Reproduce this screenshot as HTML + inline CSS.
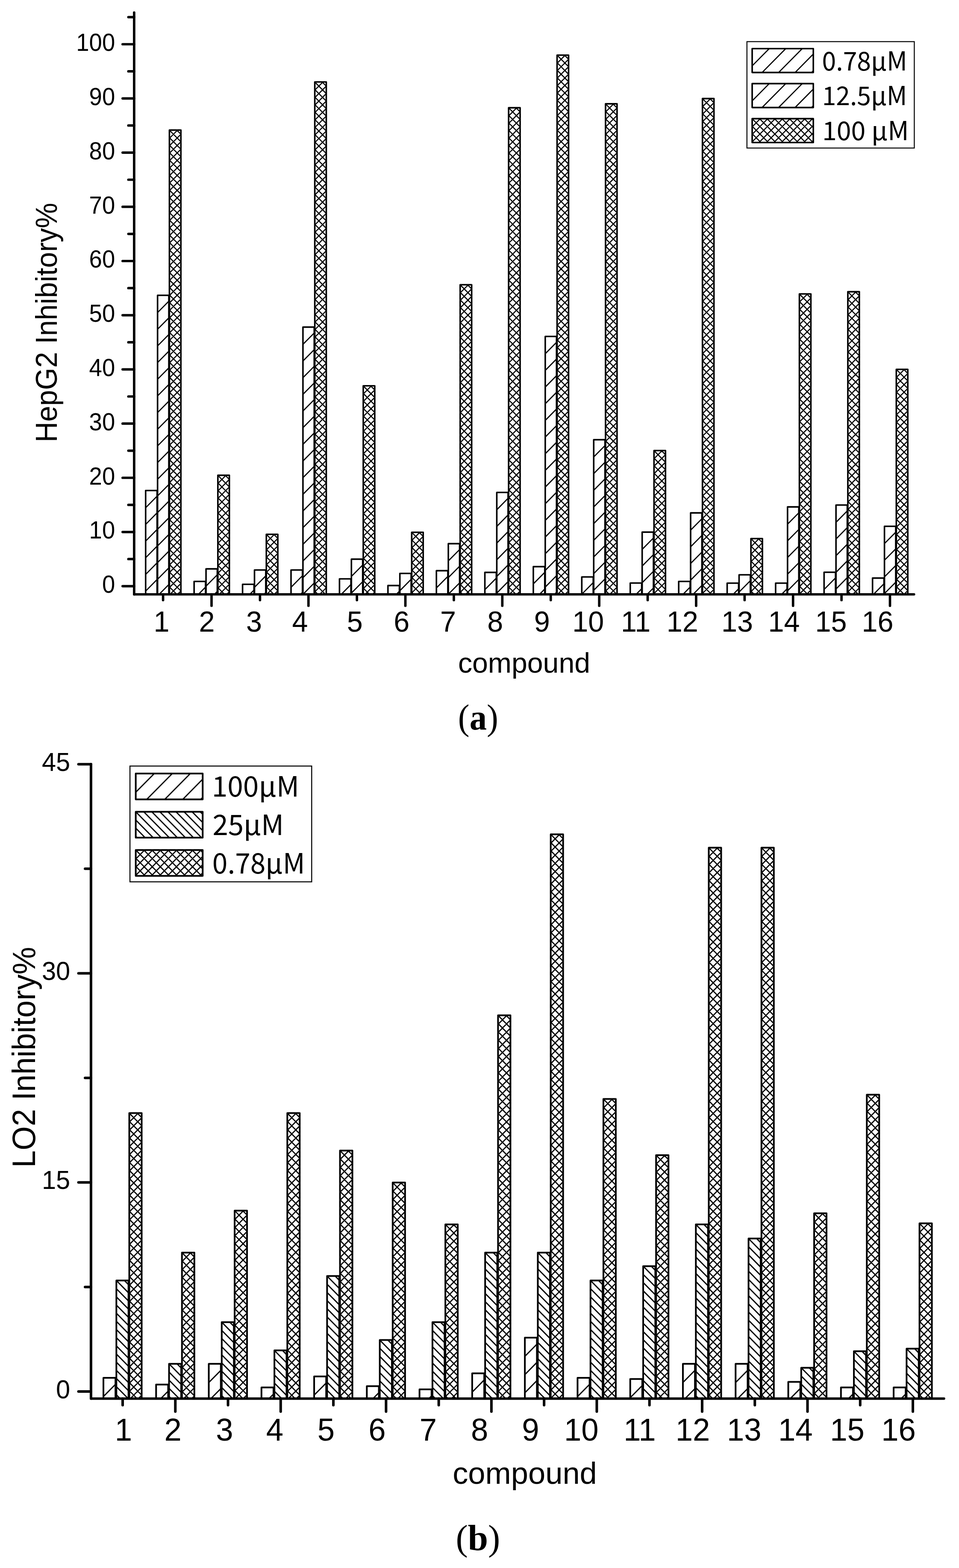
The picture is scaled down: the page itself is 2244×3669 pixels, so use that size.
<!DOCTYPE html>
<html lang="en"><head><meta charset="utf-8"><title>Inhibitory rate of compounds on HepG2 and LO2 cells</title>
<style>html,body{margin:0;padding:0;background:#fff}svg{display:block}text{font-family:"Liberation Sans",Arial,sans-serif;fill:#000}.lg{font-family:"Noto Sans CJK SC","DejaVu Sans","Liberation Sans",sans-serif}.cap{font-family:"Liberation Serif","DejaVu Serif",serif}</style></head><body>
<svg width="2244" height="3669" viewBox="0 0 2244 3669" role="img" aria-label="Bar charts of inhibitory rates">
<rect x="0" y="0" width="2244" height="3669" fill="#fff"/>
<g fill="none" stroke="#000">
<path d="M340.8 1149.1L342.19 1147.7M340.8 1188.1L367.6 1161.02M340.8 1227.1L367.6 1200.02M340.8 1266.1L367.6 1239.02M340.8 1305.1L367.6 1278.02M340.8 1344.1L367.6 1317.02M340.8 1383.1L367.6 1356.02M368.7 692.4L370.09 691M368.7 731.4L395.1 704.73M368.7 770.4L395.1 743.73M368.7 809.4L395.1 782.73M368.7 848.4L395.1 821.73M368.7 887.4L395.1 860.73M368.7 926.4L395.1 899.73M368.7 965.4L395.1 938.73M368.7 1004.4L395.1 977.73M368.7 1043.4L395.1 1016.73M368.7 1082.4L395.1 1055.73M368.7 1121.4L395.1 1094.73M368.7 1160.4L395.1 1133.73M368.7 1199.4L395.1 1172.73M368.7 1238.4L395.1 1211.73M368.7 1277.4L395.1 1250.73M368.7 1316.4L395.1 1289.73M368.7 1355.4L395.1 1328.73M372.36 1390.7L395.1 1367.73M454.19 1361.9L455.58 1360.5M464.29 1390.7L480.99 1373.82M482.09 1332.5L483.48 1331.1M482.09 1371.5L508.49 1344.83M501.69 1390.7L508.49 1383.83M567.59 1368.7L568.97 1367.3M584.41 1390.7L594.39 1380.62M595.49 1335.2L596.87 1333.8M595.49 1374.2L621.89 1347.53M617.76 1390.7L621.89 1386.53M680.98 1335.2L682.36 1333.8M680.98 1374.2L707.78 1347.12M703.25 1390.7L707.78 1386.12M708.88 766.8L710.26 765.4M708.88 805.8L735.28 779.13M708.88 844.8L735.28 818.13M708.88 883.8L735.28 857.13M708.88 922.8L735.28 896.13M708.88 961.8L735.28 935.13M708.88 1000.8L735.28 974.13M708.88 1039.8L735.28 1013.13M708.88 1078.8L735.28 1052.13M708.88 1117.8L735.28 1091.13M708.88 1156.8L735.28 1130.13M708.88 1195.8L735.28 1169.13M708.88 1234.8L735.28 1208.13M708.88 1273.8L735.28 1247.13M708.88 1312.8L735.28 1286.13M708.88 1351.8L735.28 1325.13M708.98 1390.7L735.28 1364.13M794.37 1355.9L795.76 1354.5M798.53 1390.7L821.17 1367.82M822.27 1309.8L823.66 1308.4M822.27 1348.8L848.67 1322.13M822.27 1387.8L848.67 1361.13M907.77 1371.5L909.15 1370.1M927.36 1390.7L934.57 1383.42M935.67 1343.2L937.05 1341.8M935.67 1382.2L962.07 1355.53M1021.16 1336.8L1022.54 1335.4M1021.16 1375.8L1047.96 1348.72M1045.01 1390.7L1047.96 1387.72M1049.06 1273.5L1050.44 1272.1M1049.06 1312.5L1075.46 1285.83M1049.06 1351.5L1075.46 1324.83M1049.06 1390.5L1075.46 1363.83M1134.55 1340.8L1135.94 1339.4M1134.55 1379.8L1161.35 1352.72M1162.45 1153.7L1163.84 1152.3M1162.45 1192.7L1188.85 1166.03M1162.45 1231.7L1188.85 1205.03M1162.45 1270.7L1188.85 1244.03M1162.45 1309.7L1188.85 1283.03M1162.45 1348.7L1188.85 1322.03M1162.45 1387.7L1188.85 1361.03M1247.94 1327.3L1249.33 1325.9M1247.94 1366.3L1274.74 1339.22M1262.39 1390.7L1274.74 1378.22M1275.84 788.7L1277.23 787.3M1275.84 827.7L1302.24 801.03M1275.84 866.7L1302.24 840.03M1275.84 905.7L1302.24 879.03M1275.84 944.7L1302.24 918.03M1275.84 983.7L1302.24 957.03M1275.84 1022.7L1302.24 996.03M1275.84 1061.7L1302.24 1035.03M1275.84 1100.7L1302.24 1074.03M1275.84 1139.7L1302.24 1113.03M1275.84 1178.7L1302.24 1152.03M1275.84 1217.7L1302.24 1191.03M1275.84 1256.7L1302.24 1230.03M1275.84 1295.7L1302.24 1269.03M1275.84 1334.7L1302.24 1308.03M1275.84 1373.7L1302.24 1347.03M1297.62 1390.7L1302.24 1386.03M1361.34 1351.4L1362.72 1350M1361.34 1390.4L1388.14 1363.32M1389.24 1030.3L1390.62 1028.9M1389.24 1069.3L1415.64 1042.63M1389.24 1108.3L1415.64 1081.63M1389.24 1147.3L1415.64 1120.63M1389.24 1186.3L1415.64 1159.63M1389.24 1225.3L1415.64 1198.63M1389.24 1264.3L1415.64 1237.63M1389.24 1303.3L1415.64 1276.63M1389.24 1342.3L1415.64 1315.63M1389.24 1381.3L1415.64 1354.63M1474.73 1365.6L1476.12 1364.2M1488.49 1390.7L1501.53 1377.52M1502.63 1246.5L1504.02 1245.1M1502.63 1285.5L1529.03 1258.83M1502.63 1324.5L1529.03 1297.83M1502.63 1363.5L1529.03 1336.83M1514.31 1390.7L1529.03 1375.83M1588.12 1361.9L1589.51 1360.5M1598.22 1390.7L1614.92 1373.82M1616.02 1201.5L1617.41 1200.1M1616.02 1240.5L1642.42 1213.83M1616.02 1279.5L1642.42 1252.83M1616.02 1318.5L1642.42 1291.83M1616.02 1357.5L1642.42 1330.83M1621.76 1390.7L1642.42 1369.83M1701.52 1365.9L1702.9 1364.5M1715.57 1390.7L1728.32 1377.82M1729.42 1346.4L1730.8 1345M1729.42 1385.4L1755.82 1358.73M1814.91 1365.9L1816.29 1364.5M1828.96 1390.7L1841.71 1377.82M1842.81 1187.5L1844.19 1186.1M1842.81 1226.5L1869.21 1199.83M1842.81 1265.5L1869.21 1238.83M1842.81 1304.5L1869.21 1277.83M1842.81 1343.5L1869.21 1316.83M1842.81 1382.5L1869.21 1355.83M1928.3 1340.4L1929.69 1339M1928.3 1379.4L1955.1 1352.32M1956.2 1183.2L1957.59 1181.8M1956.2 1222.2L1982.6 1195.53M1956.2 1261.2L1982.6 1234.53M1956.2 1300.2L1982.6 1273.53M1956.2 1339.2L1982.6 1312.53M1956.2 1378.2L1982.6 1351.53M1982.43 1390.7L1982.6 1390.53M2041.69 1354L2043.08 1352.6M2043.97 1390.7L2068.49 1365.92M2069.59 1232.9L2070.98 1231.5M2069.59 1271.9L2095.99 1245.23M2069.59 1310.9L2095.99 1284.23M2069.59 1349.9L2095.99 1323.23M2069.59 1388.9L2095.99 1362.23" stroke-width="2.7"/>
<path d="M396.4 306.05L398.04 304.4M396.4 323.57L415.48 304.4M396.4 341.09L423.3 314.07M396.4 358.61L423.3 331.59M396.4 376.13L423.3 349.11M396.4 393.65L423.3 366.63M396.4 411.17L423.3 384.15M396.4 428.69L423.3 401.67M396.4 446.21L423.3 419.19M396.4 463.73L423.3 436.71M396.4 481.25L423.3 454.23M396.4 498.77L423.3 471.75M396.4 516.29L423.3 489.27M396.4 533.81L423.3 506.79M396.4 551.33L423.3 524.31M396.4 568.85L423.3 541.83M396.4 586.37L423.3 559.35M396.4 603.89L423.3 576.87M396.4 621.41L423.3 594.39M396.4 638.93L423.3 611.91M396.4 656.45L423.3 629.43M396.4 673.97L423.3 646.95M396.4 691.49L423.3 664.47M396.4 709.01L423.3 681.99M396.4 726.53L423.3 699.51M396.4 744.05L423.3 717.03M396.4 761.57L423.3 734.55M396.4 779.09L423.3 752.07M396.4 796.61L423.3 769.59M396.4 814.13L423.3 787.11M396.4 831.65L423.3 804.63M396.4 849.17L423.3 822.15M396.4 866.69L423.3 839.67M396.4 884.21L423.3 857.19M396.4 901.73L423.3 874.71M396.4 919.25L423.3 892.23M396.4 936.77L423.3 909.75M396.4 954.29L423.3 927.27M396.4 971.81L423.3 944.79M396.4 989.33L423.3 962.31M396.4 1006.85L423.3 979.83M396.4 1024.37L423.3 997.35M396.4 1041.89L423.3 1014.87M396.4 1059.41L423.3 1032.39M396.4 1076.93L423.3 1049.91M396.4 1094.45L423.3 1067.43M396.4 1111.97L423.3 1084.95M396.4 1129.49L423.3 1102.47M396.4 1147.01L423.3 1119.99M396.4 1164.53L423.3 1137.51M396.4 1182.05L423.3 1155.03M396.4 1199.57L423.3 1172.55M396.4 1217.09L423.3 1190.07M396.4 1234.61L423.3 1207.59M396.4 1252.13L423.3 1225.11M396.4 1269.65L423.3 1242.63M396.4 1287.17L423.3 1260.15M396.4 1304.69L423.3 1277.67M396.4 1322.21L423.3 1295.19M396.4 1339.73L423.3 1312.71M396.4 1357.25L423.3 1330.23M396.4 1374.77L423.3 1347.75M397.98 1390.7L423.3 1365.27M415.42 1390.7L423.3 1382.79M413.64 304.4L423.3 314.1M396.4 304.6L423.3 331.62M396.4 322.12L423.3 349.14M396.4 339.64L423.3 366.66M396.4 357.16L423.3 384.18M396.4 374.68L423.3 401.7M396.4 392.2L423.3 419.22M396.4 409.72L423.3 436.74M396.4 427.24L423.3 454.26M396.4 444.76L423.3 471.78M396.4 462.28L423.3 489.3M396.4 479.8L423.3 506.82M396.4 497.32L423.3 524.34M396.4 514.84L423.3 541.86M396.4 532.36L423.3 559.38M396.4 549.88L423.3 576.9M396.4 567.4L423.3 594.42M396.4 584.92L423.3 611.94M396.4 602.44L423.3 629.46M396.4 619.96L423.3 646.98M396.4 637.48L423.3 664.5M396.4 655L423.3 682.02M396.4 672.52L423.3 699.54M396.4 690.04L423.3 717.06M396.4 707.56L423.3 734.58M396.4 725.08L423.3 752.1M396.4 742.6L423.3 769.62M396.4 760.12L423.3 787.14M396.4 777.64L423.3 804.66M396.4 795.16L423.3 822.18M396.4 812.68L423.3 839.7M396.4 830.2L423.3 857.22M396.4 847.72L423.3 874.74M396.4 865.24L423.3 892.26M396.4 882.76L423.3 909.78M396.4 900.28L423.3 927.3M396.4 917.8L423.3 944.82M396.4 935.32L423.3 962.34M396.4 952.84L423.3 979.86M396.4 970.36L423.3 997.38M396.4 987.88L423.3 1014.9M396.4 1005.4L423.3 1032.42M396.4 1022.92L423.3 1049.94M396.4 1040.44L423.3 1067.46M396.4 1057.96L423.3 1084.98M396.4 1075.48L423.3 1102.5M396.4 1093L423.3 1120.02M396.4 1110.52L423.3 1137.54M396.4 1128.04L423.3 1155.06M396.4 1145.56L423.3 1172.58M396.4 1163.08L423.3 1190.1M396.4 1180.6L423.3 1207.62M396.4 1198.12L423.3 1225.14M396.4 1215.64L423.3 1242.66M396.4 1233.16L423.3 1260.18M396.4 1250.68L423.3 1277.7M396.4 1268.2L423.3 1295.22M396.4 1285.72L423.3 1312.74M396.4 1303.24L423.3 1330.26M396.4 1320.76L423.3 1347.78M396.4 1338.28L423.3 1365.3M396.4 1355.8L423.3 1382.82M396.4 1373.32L413.7 1390.7M509.79 1113.75L511.44 1112.1M509.79 1131.27L528.88 1112.1M509.79 1148.79L536.69 1121.77M509.79 1166.31L536.69 1139.29M509.79 1183.83L536.69 1156.81M509.79 1201.35L536.69 1174.33M509.79 1218.87L536.69 1191.85M509.79 1236.39L536.69 1209.37M509.79 1253.91L536.69 1226.89M509.79 1271.43L536.69 1244.41M509.79 1288.95L536.69 1261.93M509.79 1306.47L536.69 1279.45M509.79 1323.99L536.69 1296.97M509.79 1341.51L536.69 1314.49M509.79 1359.03L536.69 1332.01M509.79 1376.55L536.69 1349.53M513.15 1390.7L536.69 1367.05M530.59 1390.7L536.69 1384.57M527.03 1112.1L536.69 1121.8M509.79 1112.3L536.69 1139.32M509.79 1129.82L536.69 1156.84M509.79 1147.34L536.69 1174.36M509.79 1164.86L536.69 1191.88M509.79 1182.38L536.69 1209.4M509.79 1199.9L536.69 1226.92M509.79 1217.42L536.69 1244.44M509.79 1234.94L536.69 1261.96M509.79 1252.46L536.69 1279.48M509.79 1269.98L536.69 1297M509.79 1287.5L536.69 1314.52M509.79 1305.02L536.69 1332.04M509.79 1322.54L536.69 1349.56M509.79 1340.06L536.69 1367.08M509.79 1357.58L536.69 1384.6M509.79 1375.1L525.32 1390.7M623.19 1251.85L624.83 1250.2M623.19 1269.37L642.27 1250.2M623.19 1286.89L650.09 1259.87M623.19 1304.41L650.09 1277.39M623.19 1321.93L650.09 1294.91M623.19 1339.45L650.09 1312.43M623.19 1356.97L650.09 1329.95M623.19 1374.49L650.09 1347.47M624.49 1390.7L650.09 1364.99M641.93 1390.7L650.09 1382.51M640.43 1250.2L650.09 1259.9M623.19 1250.4L650.09 1277.42M623.19 1267.92L650.09 1294.94M623.19 1285.44L650.09 1312.46M623.19 1302.96L650.09 1329.98M623.19 1320.48L650.09 1347.5M623.19 1338L650.09 1365.02M623.19 1355.52L650.09 1382.54M623.19 1373.04L640.77 1390.7M736.58 193.45L738.22 191.8M736.58 210.97L755.66 191.8M736.58 228.49L763.48 201.47M736.58 246.01L763.48 218.99M736.58 263.53L763.48 236.51M736.58 281.05L763.48 254.03M736.58 298.57L763.48 271.55M736.58 316.09L763.48 289.07M736.58 333.61L763.48 306.59M736.58 351.13L763.48 324.11M736.58 368.65L763.48 341.63M736.58 386.17L763.48 359.15M736.58 403.69L763.48 376.67M736.58 421.21L763.48 394.19M736.58 438.73L763.48 411.71M736.58 456.25L763.48 429.23M736.58 473.77L763.48 446.75M736.58 491.29L763.48 464.27M736.58 508.81L763.48 481.79M736.58 526.33L763.48 499.31M736.58 543.85L763.48 516.83M736.58 561.37L763.48 534.35M736.58 578.89L763.48 551.87M736.58 596.41L763.48 569.39M736.58 613.93L763.48 586.91M736.58 631.45L763.48 604.43M736.58 648.97L763.48 621.95M736.58 666.49L763.48 639.47M736.58 684.01L763.48 656.99M736.58 701.53L763.48 674.51M736.58 719.05L763.48 692.03M736.58 736.57L763.48 709.55M736.58 754.09L763.48 727.07M736.58 771.61L763.48 744.59M736.58 789.13L763.48 762.11M736.58 806.65L763.48 779.63M736.58 824.17L763.48 797.15M736.58 841.69L763.48 814.67M736.58 859.21L763.48 832.19M736.58 876.73L763.48 849.71M736.58 894.25L763.48 867.23M736.58 911.77L763.48 884.75M736.58 929.29L763.48 902.27M736.58 946.81L763.48 919.79M736.58 964.33L763.48 937.31M736.58 981.85L763.48 954.83M736.58 999.37L763.48 972.35M736.58 1016.89L763.48 989.87M736.58 1034.41L763.48 1007.39M736.58 1051.93L763.48 1024.91M736.58 1069.45L763.48 1042.43M736.58 1086.97L763.48 1059.95M736.58 1104.49L763.48 1077.47M736.58 1122.01L763.48 1094.99M736.58 1139.53L763.48 1112.51M736.58 1157.05L763.48 1130.03M736.58 1174.57L763.48 1147.55M736.58 1192.09L763.48 1165.07M736.58 1209.61L763.48 1182.59M736.58 1227.13L763.48 1200.11M736.58 1244.65L763.48 1217.63M736.58 1262.17L763.48 1235.15M736.58 1279.69L763.48 1252.67M736.58 1297.21L763.48 1270.19M736.58 1314.73L763.48 1287.71M736.58 1332.25L763.48 1305.23M736.58 1349.77L763.48 1322.75M736.58 1367.29L763.48 1340.27M736.58 1384.81L763.48 1357.79M748.16 1390.7L763.48 1375.31M753.82 191.8L763.48 201.5M736.58 192L763.48 219.02M736.58 209.52L763.48 236.54M736.58 227.04L763.48 254.06M736.58 244.56L763.48 271.58M736.58 262.08L763.48 289.1M736.58 279.6L763.48 306.62M736.58 297.12L763.48 324.14M736.58 314.64L763.48 341.66M736.58 332.16L763.48 359.18M736.58 349.68L763.48 376.7M736.58 367.2L763.48 394.22M736.58 384.72L763.48 411.74M736.58 402.24L763.48 429.26M736.58 419.76L763.48 446.78M736.58 437.28L763.48 464.3M736.58 454.8L763.48 481.82M736.58 472.32L763.48 499.34M736.58 489.84L763.48 516.86M736.58 507.36L763.48 534.38M736.58 524.88L763.48 551.9M736.58 542.4L763.48 569.42M736.58 559.92L763.48 586.94M736.58 577.44L763.48 604.46M736.58 594.96L763.48 621.98M736.58 612.48L763.48 639.5M736.58 630L763.48 657.02M736.58 647.52L763.48 674.54M736.58 665.04L763.48 692.06M736.58 682.56L763.48 709.58M736.58 700.08L763.48 727.1M736.58 717.6L763.48 744.62M736.58 735.12L763.48 762.14M736.58 752.64L763.48 779.66M736.58 770.16L763.48 797.18M736.58 787.68L763.48 814.7M736.58 805.2L763.48 832.22M736.58 822.72L763.48 849.74M736.58 840.24L763.48 867.26M736.58 857.76L763.48 884.78M736.58 875.28L763.48 902.3M736.58 892.8L763.48 919.82M736.58 910.32L763.48 937.34M736.58 927.84L763.48 954.86M736.58 945.36L763.48 972.38M736.58 962.88L763.48 989.9M736.58 980.4L763.48 1007.42M736.58 997.92L763.48 1024.94M736.58 1015.44L763.48 1042.46M736.58 1032.96L763.48 1059.98M736.58 1050.48L763.48 1077.5M736.58 1068L763.48 1095.02M736.58 1085.52L763.48 1112.54M736.58 1103.04L763.48 1130.06M736.58 1120.56L763.48 1147.58M736.58 1138.08L763.48 1165.1M736.58 1155.6L763.48 1182.62M736.58 1173.12L763.48 1200.14M736.58 1190.64L763.48 1217.66M736.58 1208.16L763.48 1235.18M736.58 1225.68L763.48 1252.7M736.58 1243.2L763.48 1270.22M736.58 1260.72L763.48 1287.74M736.58 1278.24L763.48 1305.26M736.58 1295.76L763.48 1322.78M736.58 1313.28L763.48 1340.3M736.58 1330.8L763.48 1357.82M736.58 1348.32L763.48 1375.34M736.58 1365.84L761.33 1390.7M736.58 1383.36L743.89 1390.7M849.97 904.45L851.61 902.8M849.97 921.97L869.05 902.8M849.97 939.49L876.87 912.47M849.97 957.01L876.87 929.99M849.97 974.53L876.87 947.51M849.97 992.05L876.87 965.03M849.97 1009.57L876.87 982.55M849.97 1027.09L876.87 1000.07M849.97 1044.61L876.87 1017.59M849.97 1062.13L876.87 1035.11M849.97 1079.65L876.87 1052.63M849.97 1097.17L876.87 1070.15M849.97 1114.69L876.87 1087.67M849.97 1132.21L876.87 1105.19M849.97 1149.73L876.87 1122.71M849.97 1167.25L876.87 1140.23M849.97 1184.77L876.87 1157.75M849.97 1202.29L876.87 1175.27M849.97 1219.81L876.87 1192.79M849.97 1237.33L876.87 1210.31M849.97 1254.85L876.87 1227.83M849.97 1272.37L876.87 1245.35M849.97 1289.89L876.87 1262.87M849.97 1307.41L876.87 1280.39M849.97 1324.93L876.87 1297.91M849.97 1342.45L876.87 1315.43M849.97 1359.97L876.87 1332.95M849.97 1377.49L876.87 1350.47M854.26 1390.7L876.87 1367.99M871.7 1390.7L876.87 1385.51M867.21 902.8L876.87 912.5M849.97 903L876.87 930.02M849.97 920.52L876.87 947.54M849.97 938.04L876.87 965.06M849.97 955.56L876.87 982.58M849.97 973.08L876.87 1000.1M849.97 990.6L876.87 1017.62M849.97 1008.12L876.87 1035.14M849.97 1025.64L876.87 1052.66M849.97 1043.16L876.87 1070.18M849.97 1060.68L876.87 1087.7M849.97 1078.2L876.87 1105.22M849.97 1095.72L876.87 1122.74M849.97 1113.24L876.87 1140.26M849.97 1130.76L876.87 1157.78M849.97 1148.28L876.87 1175.3M849.97 1165.8L876.87 1192.82M849.97 1183.32L876.87 1210.34M849.97 1200.84L876.87 1227.86M849.97 1218.36L876.87 1245.38M849.97 1235.88L876.87 1262.9M849.97 1253.4L876.87 1280.42M849.97 1270.92L876.87 1297.94M849.97 1288.44L876.87 1315.46M849.97 1305.96L876.87 1332.98M849.97 1323.48L876.87 1350.5M849.97 1341L876.87 1368.02M849.97 1358.52L876.87 1385.54M849.97 1376.04L864.57 1390.7M963.37 1247.15L965.01 1245.5M963.37 1264.67L982.45 1245.5M963.37 1282.19L990.27 1255.17M963.37 1299.71L990.27 1272.69M963.37 1317.23L990.27 1290.21M963.37 1334.75L990.27 1307.73M963.37 1352.27L990.27 1325.25M963.37 1369.79L990.27 1342.77M963.37 1387.31L990.27 1360.29M977.43 1390.7L990.27 1377.81M980.61 1245.5L990.27 1255.2M963.37 1245.7L990.27 1272.72M963.37 1263.22L990.27 1290.24M963.37 1280.74L990.27 1307.76M963.37 1298.26L990.27 1325.28M963.37 1315.78L990.27 1342.8M963.37 1333.3L990.27 1360.32M963.37 1350.82L990.27 1377.84M963.37 1368.34L985.62 1390.7M963.37 1385.86L968.18 1390.7M1076.76 667.95L1078.4 666.3M1076.76 685.47L1095.84 666.3M1076.76 702.99L1103.66 675.97M1076.76 720.51L1103.66 693.49M1076.76 738.03L1103.66 711.01M1076.76 755.55L1103.66 728.53M1076.76 773.07L1103.66 746.05M1076.76 790.59L1103.66 763.57M1076.76 808.11L1103.66 781.09M1076.76 825.63L1103.66 798.61M1076.76 843.15L1103.66 816.13M1076.76 860.67L1103.66 833.65M1076.76 878.19L1103.66 851.17M1076.76 895.71L1103.66 868.69M1076.76 913.23L1103.66 886.21M1076.76 930.75L1103.66 903.73M1076.76 948.27L1103.66 921.25M1076.76 965.79L1103.66 938.77M1076.76 983.31L1103.66 956.29M1076.76 1000.83L1103.66 973.81M1076.76 1018.35L1103.66 991.33M1076.76 1035.87L1103.66 1008.85M1076.76 1053.39L1103.66 1026.37M1076.76 1070.91L1103.66 1043.89M1076.76 1088.43L1103.66 1061.41M1076.76 1105.95L1103.66 1078.93M1076.76 1123.47L1103.66 1096.45M1076.76 1140.99L1103.66 1113.97M1076.76 1158.51L1103.66 1131.49M1076.76 1176.03L1103.66 1149.01M1076.76 1193.55L1103.66 1166.53M1076.76 1211.07L1103.66 1184.05M1076.76 1228.59L1103.66 1201.57M1076.76 1246.11L1103.66 1219.09M1076.76 1263.63L1103.66 1236.61M1076.76 1281.15L1103.66 1254.13M1076.76 1298.67L1103.66 1271.65M1076.76 1316.19L1103.66 1289.17M1076.76 1333.71L1103.66 1306.69M1076.76 1351.23L1103.66 1324.21M1076.76 1368.75L1103.66 1341.73M1076.76 1386.27L1103.66 1359.25M1089.79 1390.7L1103.66 1376.77M1094 666.3L1103.66 676M1076.76 666.5L1103.66 693.52M1076.76 684.02L1103.66 711.04M1076.76 701.54L1103.66 728.56M1076.76 719.06L1103.66 746.08M1076.76 736.58L1103.66 763.6M1076.76 754.1L1103.66 781.12M1076.76 771.62L1103.66 798.64M1076.76 789.14L1103.66 816.16M1076.76 806.66L1103.66 833.68M1076.76 824.18L1103.66 851.2M1076.76 841.7L1103.66 868.72M1076.76 859.22L1103.66 886.24M1076.76 876.74L1103.66 903.76M1076.76 894.26L1103.66 921.28M1076.76 911.78L1103.66 938.8M1076.76 929.3L1103.66 956.32M1076.76 946.82L1103.66 973.84M1076.76 964.34L1103.66 991.36M1076.76 981.86L1103.66 1008.88M1076.76 999.38L1103.66 1026.4M1076.76 1016.9L1103.66 1043.92M1076.76 1034.42L1103.66 1061.44M1076.76 1051.94L1103.66 1078.96M1076.76 1069.46L1103.66 1096.48M1076.76 1086.98L1103.66 1114M1076.76 1104.5L1103.66 1131.52M1076.76 1122.02L1103.66 1149.04M1076.76 1139.54L1103.66 1166.56M1076.76 1157.06L1103.66 1184.08M1076.76 1174.58L1103.66 1201.6M1076.76 1192.1L1103.66 1219.12M1076.76 1209.62L1103.66 1236.64M1076.76 1227.14L1103.66 1254.16M1076.76 1244.66L1103.66 1271.68M1076.76 1262.18L1103.66 1289.2M1076.76 1279.7L1103.66 1306.72M1076.76 1297.22L1103.66 1324.24M1076.76 1314.74L1103.66 1341.76M1076.76 1332.26L1103.66 1359.28M1076.76 1349.78L1103.66 1376.8M1076.76 1367.3L1100.05 1390.7M1076.76 1384.82L1082.61 1390.7M1190.15 253.75L1191.79 252.1M1190.15 271.27L1209.23 252.1M1190.15 288.79L1217.05 261.77M1190.15 306.31L1217.05 279.29M1190.15 323.83L1217.05 296.81M1190.15 341.35L1217.05 314.33M1190.15 358.87L1217.05 331.85M1190.15 376.39L1217.05 349.37M1190.15 393.91L1217.05 366.89M1190.15 411.43L1217.05 384.41M1190.15 428.95L1217.05 401.93M1190.15 446.47L1217.05 419.45M1190.15 463.99L1217.05 436.97M1190.15 481.51L1217.05 454.49M1190.15 499.03L1217.05 472.01M1190.15 516.55L1217.05 489.53M1190.15 534.07L1217.05 507.05M1190.15 551.59L1217.05 524.57M1190.15 569.11L1217.05 542.09M1190.15 586.63L1217.05 559.61M1190.15 604.15L1217.05 577.13M1190.15 621.67L1217.05 594.65M1190.15 639.19L1217.05 612.17M1190.15 656.71L1217.05 629.69M1190.15 674.23L1217.05 647.21M1190.15 691.75L1217.05 664.73M1190.15 709.27L1217.05 682.25M1190.15 726.79L1217.05 699.77M1190.15 744.31L1217.05 717.29M1190.15 761.83L1217.05 734.81M1190.15 779.35L1217.05 752.33M1190.15 796.87L1217.05 769.85M1190.15 814.39L1217.05 787.37M1190.15 831.91L1217.05 804.89M1190.15 849.43L1217.05 822.41M1190.15 866.95L1217.05 839.93M1190.15 884.47L1217.05 857.45M1190.15 901.99L1217.05 874.97M1190.15 919.51L1217.05 892.49M1190.15 937.03L1217.05 910.01M1190.15 954.55L1217.05 927.53M1190.15 972.07L1217.05 945.05M1190.15 989.59L1217.05 962.57M1190.15 1007.11L1217.05 980.09M1190.15 1024.63L1217.05 997.61M1190.15 1042.15L1217.05 1015.13M1190.15 1059.67L1217.05 1032.65M1190.15 1077.19L1217.05 1050.17M1190.15 1094.71L1217.05 1067.69M1190.15 1112.23L1217.05 1085.21M1190.15 1129.75L1217.05 1102.73M1190.15 1147.27L1217.05 1120.25M1190.15 1164.79L1217.05 1137.77M1190.15 1182.31L1217.05 1155.29M1190.15 1199.83L1217.05 1172.81M1190.15 1217.35L1217.05 1190.33M1190.15 1234.87L1217.05 1207.85M1190.15 1252.39L1217.05 1225.37M1190.15 1269.91L1217.05 1242.89M1190.15 1287.43L1217.05 1260.41M1190.15 1304.95L1217.05 1277.93M1190.15 1322.47L1217.05 1295.45M1190.15 1339.99L1217.05 1312.97M1190.15 1357.51L1217.05 1330.49M1190.15 1375.03L1217.05 1348.01M1191.99 1390.7L1217.05 1365.53M1209.43 1390.7L1217.05 1383.05M1207.39 252.1L1217.05 261.8M1190.15 252.3L1217.05 279.32M1190.15 269.82L1217.05 296.84M1190.15 287.34L1217.05 314.36M1190.15 304.86L1217.05 331.88M1190.15 322.38L1217.05 349.4M1190.15 339.9L1217.05 366.92M1190.15 357.42L1217.05 384.44M1190.15 374.94L1217.05 401.96M1190.15 392.46L1217.05 419.48M1190.15 409.98L1217.05 437M1190.15 427.5L1217.05 454.52M1190.15 445.02L1217.05 472.04M1190.15 462.54L1217.05 489.56M1190.15 480.06L1217.05 507.08M1190.15 497.58L1217.05 524.6M1190.15 515.1L1217.05 542.12M1190.15 532.62L1217.05 559.64M1190.15 550.14L1217.05 577.16M1190.15 567.66L1217.05 594.68M1190.15 585.18L1217.05 612.2M1190.15 602.7L1217.05 629.72M1190.15 620.22L1217.05 647.24M1190.15 637.74L1217.05 664.76M1190.15 655.26L1217.05 682.28M1190.15 672.78L1217.05 699.8M1190.15 690.3L1217.05 717.32M1190.15 707.82L1217.05 734.84M1190.15 725.34L1217.05 752.36M1190.15 742.86L1217.05 769.88M1190.15 760.38L1217.05 787.4M1190.15 777.9L1217.05 804.92M1190.15 795.42L1217.05 822.44M1190.15 812.94L1217.05 839.96M1190.15 830.46L1217.05 857.48M1190.15 847.98L1217.05 875M1190.15 865.5L1217.05 892.52M1190.15 883.02L1217.05 910.04M1190.15 900.54L1217.05 927.56M1190.15 918.06L1217.05 945.08M1190.15 935.58L1217.05 962.6M1190.15 953.1L1217.05 980.12M1190.15 970.62L1217.05 997.64M1190.15 988.14L1217.05 1015.16M1190.15 1005.66L1217.05 1032.68M1190.15 1023.18L1217.05 1050.2M1190.15 1040.7L1217.05 1067.72M1190.15 1058.22L1217.05 1085.24M1190.15 1075.74L1217.05 1102.76M1190.15 1093.26L1217.05 1120.28M1190.15 1110.78L1217.05 1137.8M1190.15 1128.3L1217.05 1155.32M1190.15 1145.82L1217.05 1172.84M1190.15 1163.34L1217.05 1190.36M1190.15 1180.86L1217.05 1207.88M1190.15 1198.38L1217.05 1225.4M1190.15 1215.9L1217.05 1242.92M1190.15 1233.42L1217.05 1260.44M1190.15 1250.94L1217.05 1277.96M1190.15 1268.46L1217.05 1295.48M1190.15 1285.98L1217.05 1313M1190.15 1303.5L1217.05 1330.52M1190.15 1321.02L1217.05 1348.04M1190.15 1338.54L1217.05 1365.56M1190.15 1356.06L1217.05 1383.08M1190.15 1373.58L1207.19 1390.7M1303.54 130.65L1305.19 129M1303.54 148.17L1322.63 129M1303.54 165.69L1330.44 138.67M1303.54 183.21L1330.44 156.19M1303.54 200.73L1330.44 173.71M1303.54 218.25L1330.44 191.23M1303.54 235.77L1330.44 208.75M1303.54 253.29L1330.44 226.27M1303.54 270.81L1330.44 243.79M1303.54 288.33L1330.44 261.31M1303.54 305.85L1330.44 278.83M1303.54 323.37L1330.44 296.35M1303.54 340.89L1330.44 313.87M1303.54 358.41L1330.44 331.39M1303.54 375.93L1330.44 348.91M1303.54 393.45L1330.44 366.43M1303.54 410.97L1330.44 383.95M1303.54 428.49L1330.44 401.47M1303.54 446.01L1330.44 418.99M1303.54 463.53L1330.44 436.51M1303.54 481.05L1330.44 454.03M1303.54 498.57L1330.44 471.55M1303.54 516.09L1330.44 489.07M1303.54 533.61L1330.44 506.59M1303.54 551.13L1330.44 524.11M1303.54 568.65L1330.44 541.63M1303.54 586.17L1330.44 559.15M1303.54 603.69L1330.44 576.67M1303.54 621.21L1330.44 594.19M1303.54 638.73L1330.44 611.71M1303.54 656.25L1330.44 629.23M1303.54 673.77L1330.44 646.75M1303.54 691.29L1330.44 664.27M1303.54 708.81L1330.44 681.79M1303.54 726.33L1330.44 699.31M1303.54 743.85L1330.44 716.83M1303.54 761.37L1330.44 734.35M1303.54 778.89L1330.44 751.87M1303.54 796.41L1330.44 769.39M1303.54 813.93L1330.44 786.91M1303.54 831.45L1330.44 804.43M1303.54 848.97L1330.44 821.95M1303.54 866.49L1330.44 839.47M1303.54 884.01L1330.44 856.99M1303.54 901.53L1330.44 874.51M1303.54 919.05L1330.44 892.03M1303.54 936.57L1330.44 909.55M1303.54 954.09L1330.44 927.07M1303.54 971.61L1330.44 944.59M1303.54 989.13L1330.44 962.11M1303.54 1006.65L1330.44 979.63M1303.54 1024.17L1330.44 997.15M1303.54 1041.69L1330.44 1014.67M1303.54 1059.21L1330.44 1032.19M1303.54 1076.73L1330.44 1049.71M1303.54 1094.25L1330.44 1067.23M1303.54 1111.77L1330.44 1084.75M1303.54 1129.29L1330.44 1102.27M1303.54 1146.81L1330.44 1119.79M1303.54 1164.33L1330.44 1137.31M1303.54 1181.85L1330.44 1154.83M1303.54 1199.37L1330.44 1172.35M1303.54 1216.89L1330.44 1189.87M1303.54 1234.41L1330.44 1207.39M1303.54 1251.93L1330.44 1224.91M1303.54 1269.45L1330.44 1242.43M1303.54 1286.97L1330.44 1259.95M1303.54 1304.49L1330.44 1277.47M1303.54 1322.01L1330.44 1294.99M1303.54 1339.53L1330.44 1312.51M1303.54 1357.05L1330.44 1330.03M1303.54 1374.57L1330.44 1347.55M1304.93 1390.7L1330.44 1365.07M1322.37 1390.7L1330.44 1382.59M1320.78 129L1330.44 138.7M1303.54 129.2L1330.44 156.22M1303.54 146.72L1330.44 173.74M1303.54 164.24L1330.44 191.26M1303.54 181.76L1330.44 208.78M1303.54 199.28L1330.44 226.3M1303.54 216.8L1330.44 243.82M1303.54 234.32L1330.44 261.34M1303.54 251.84L1330.44 278.86M1303.54 269.36L1330.44 296.38M1303.54 286.88L1330.44 313.9M1303.54 304.4L1330.44 331.42M1303.54 321.92L1330.44 348.94M1303.54 339.44L1330.44 366.46M1303.54 356.96L1330.44 383.98M1303.54 374.48L1330.44 401.5M1303.54 392L1330.44 419.02M1303.54 409.52L1330.44 436.54M1303.54 427.04L1330.44 454.06M1303.54 444.56L1330.44 471.58M1303.54 462.08L1330.44 489.1M1303.54 479.6L1330.44 506.62M1303.54 497.12L1330.44 524.14M1303.54 514.64L1330.44 541.66M1303.54 532.16L1330.44 559.18M1303.54 549.68L1330.44 576.7M1303.54 567.2L1330.44 594.22M1303.54 584.72L1330.44 611.74M1303.54 602.24L1330.44 629.26M1303.54 619.76L1330.44 646.78M1303.54 637.28L1330.44 664.3M1303.54 654.8L1330.44 681.82M1303.54 672.32L1330.44 699.34M1303.54 689.84L1330.44 716.86M1303.54 707.36L1330.44 734.38M1303.54 724.88L1330.44 751.9M1303.54 742.4L1330.44 769.42M1303.54 759.92L1330.44 786.94M1303.54 777.44L1330.44 804.46M1303.54 794.96L1330.44 821.98M1303.54 812.48L1330.44 839.5M1303.54 830L1330.44 857.02M1303.54 847.52L1330.44 874.54M1303.54 865.04L1330.44 892.06M1303.54 882.56L1330.44 909.58M1303.54 900.08L1330.44 927.1M1303.54 917.6L1330.44 944.62M1303.54 935.12L1330.44 962.14M1303.54 952.64L1330.44 979.66M1303.54 970.16L1330.44 997.18M1303.54 987.68L1330.44 1014.7M1303.54 1005.2L1330.44 1032.22M1303.54 1022.72L1330.44 1049.74M1303.54 1040.24L1330.44 1067.26M1303.54 1057.76L1330.44 1084.78M1303.54 1075.28L1330.44 1102.3M1303.54 1092.8L1330.44 1119.82M1303.54 1110.32L1330.44 1137.34M1303.54 1127.84L1330.44 1154.86M1303.54 1145.36L1330.44 1172.38M1303.54 1162.88L1330.44 1189.9M1303.54 1180.4L1330.44 1207.42M1303.54 1197.92L1330.44 1224.94M1303.54 1215.44L1330.44 1242.46M1303.54 1232.96L1330.44 1259.98M1303.54 1250.48L1330.44 1277.5M1303.54 1268L1330.44 1295.02M1303.54 1285.52L1330.44 1312.54M1303.54 1303.04L1330.44 1330.06M1303.54 1320.56L1330.44 1347.58M1303.54 1338.08L1330.44 1365.1M1303.54 1355.6L1330.44 1382.62M1303.54 1373.12L1321.04 1390.7M1416.94 244.55L1418.58 242.9M1416.94 262.07L1436.02 242.9M1416.94 279.59L1443.84 252.57M1416.94 297.11L1443.84 270.09M1416.94 314.63L1443.84 287.61M1416.94 332.15L1443.84 305.13M1416.94 349.67L1443.84 322.65M1416.94 367.19L1443.84 340.17M1416.94 384.71L1443.84 357.69M1416.94 402.23L1443.84 375.21M1416.94 419.75L1443.84 392.73M1416.94 437.27L1443.84 410.25M1416.94 454.79L1443.84 427.77M1416.94 472.31L1443.84 445.29M1416.94 489.83L1443.84 462.81M1416.94 507.35L1443.84 480.33M1416.94 524.87L1443.84 497.85M1416.94 542.39L1443.84 515.37M1416.94 559.91L1443.84 532.89M1416.94 577.43L1443.84 550.41M1416.94 594.95L1443.84 567.93M1416.94 612.47L1443.84 585.45M1416.94 629.99L1443.84 602.97M1416.94 647.51L1443.84 620.49M1416.94 665.03L1443.84 638.01M1416.94 682.55L1443.84 655.53M1416.94 700.07L1443.84 673.05M1416.94 717.59L1443.84 690.57M1416.94 735.11L1443.84 708.09M1416.94 752.63L1443.84 725.61M1416.94 770.15L1443.84 743.13M1416.94 787.67L1443.84 760.65M1416.94 805.19L1443.84 778.17M1416.94 822.71L1443.84 795.69M1416.94 840.23L1443.84 813.21M1416.94 857.75L1443.84 830.73M1416.94 875.27L1443.84 848.25M1416.94 892.79L1443.84 865.77M1416.94 910.31L1443.84 883.29M1416.94 927.83L1443.84 900.81M1416.94 945.35L1443.84 918.33M1416.94 962.87L1443.84 935.85M1416.94 980.39L1443.84 953.37M1416.94 997.91L1443.84 970.89M1416.94 1015.43L1443.84 988.41M1416.94 1032.95L1443.84 1005.93M1416.94 1050.47L1443.84 1023.45M1416.94 1067.99L1443.84 1040.97M1416.94 1085.51L1443.84 1058.49M1416.94 1103.03L1443.84 1076.01M1416.94 1120.55L1443.84 1093.53M1416.94 1138.07L1443.84 1111.05M1416.94 1155.59L1443.84 1128.57M1416.94 1173.11L1443.84 1146.09M1416.94 1190.63L1443.84 1163.61M1416.94 1208.15L1443.84 1181.13M1416.94 1225.67L1443.84 1198.65M1416.94 1243.19L1443.84 1216.17M1416.94 1260.71L1443.84 1233.69M1416.94 1278.23L1443.84 1251.21M1416.94 1295.75L1443.84 1268.73M1416.94 1313.27L1443.84 1286.25M1416.94 1330.79L1443.84 1303.77M1416.94 1348.31L1443.84 1321.29M1416.94 1365.83L1443.84 1338.81M1416.94 1383.35L1443.84 1356.33M1427.06 1390.7L1443.84 1373.85M1434.18 242.9L1443.84 252.6M1416.94 243.1L1443.84 270.12M1416.94 260.62L1443.84 287.64M1416.94 278.14L1443.84 305.16M1416.94 295.66L1443.84 322.68M1416.94 313.18L1443.84 340.2M1416.94 330.7L1443.84 357.72M1416.94 348.22L1443.84 375.24M1416.94 365.74L1443.84 392.76M1416.94 383.26L1443.84 410.28M1416.94 400.78L1443.84 427.8M1416.94 418.3L1443.84 445.32M1416.94 435.82L1443.84 462.84M1416.94 453.34L1443.84 480.36M1416.94 470.86L1443.84 497.88M1416.94 488.38L1443.84 515.4M1416.94 505.9L1443.84 532.92M1416.94 523.42L1443.84 550.44M1416.94 540.94L1443.84 567.96M1416.94 558.46L1443.84 585.48M1416.94 575.98L1443.84 603M1416.94 593.5L1443.84 620.52M1416.94 611.02L1443.84 638.04M1416.94 628.54L1443.84 655.56M1416.94 646.06L1443.84 673.08M1416.94 663.58L1443.84 690.6M1416.94 681.1L1443.84 708.12M1416.94 698.62L1443.84 725.64M1416.94 716.14L1443.84 743.16M1416.94 733.66L1443.84 760.68M1416.94 751.18L1443.84 778.2M1416.94 768.7L1443.84 795.72M1416.94 786.22L1443.84 813.24M1416.94 803.74L1443.84 830.76M1416.94 821.26L1443.84 848.28M1416.94 838.78L1443.84 865.8M1416.94 856.3L1443.84 883.32M1416.94 873.82L1443.84 900.84M1416.94 891.34L1443.84 918.36M1416.94 908.86L1443.84 935.88M1416.94 926.38L1443.84 953.4M1416.94 943.9L1443.84 970.92M1416.94 961.42L1443.84 988.44M1416.94 978.94L1443.84 1005.96M1416.94 996.46L1443.84 1023.48M1416.94 1013.98L1443.84 1041M1416.94 1031.5L1443.84 1058.52M1416.94 1049.02L1443.84 1076.04M1416.94 1066.54L1443.84 1093.56M1416.94 1084.06L1443.84 1111.08M1416.94 1101.58L1443.84 1128.6M1416.94 1119.1L1443.84 1146.12M1416.94 1136.62L1443.84 1163.64M1416.94 1154.14L1443.84 1181.16M1416.94 1171.66L1443.84 1198.68M1416.94 1189.18L1443.84 1216.2M1416.94 1206.7L1443.84 1233.72M1416.94 1224.22L1443.84 1251.24M1416.94 1241.74L1443.84 1268.76M1416.94 1259.26L1443.84 1286.28M1416.94 1276.78L1443.84 1303.8M1416.94 1294.3L1443.84 1321.32M1416.94 1311.82L1443.84 1338.84M1416.94 1329.34L1443.84 1356.36M1416.94 1346.86L1443.84 1373.88M1416.94 1364.38L1443.14 1390.7M1416.94 1381.9L1425.7 1390.7M1530.33 1055.95L1531.97 1054.3M1530.33 1073.47L1549.41 1054.3M1530.33 1090.99L1557.23 1063.97M1530.33 1108.51L1557.23 1081.49M1530.33 1126.03L1557.23 1099.01M1530.33 1143.55L1557.23 1116.53M1530.33 1161.07L1557.23 1134.05M1530.33 1178.59L1557.23 1151.57M1530.33 1196.11L1557.23 1169.09M1530.33 1213.63L1557.23 1186.61M1530.33 1231.15L1557.23 1204.13M1530.33 1248.67L1557.23 1221.65M1530.33 1266.19L1557.23 1239.17M1530.33 1283.71L1557.23 1256.69M1530.33 1301.23L1557.23 1274.21M1530.33 1318.75L1557.23 1291.73M1530.33 1336.27L1557.23 1309.25M1530.33 1353.79L1557.23 1326.77M1530.33 1371.31L1557.23 1344.29M1530.33 1388.83L1557.23 1361.81M1545.91 1390.7L1557.23 1379.33M1547.57 1054.3L1557.23 1064M1530.33 1054.5L1557.23 1081.52M1530.33 1072.02L1557.23 1099.04M1530.33 1089.54L1557.23 1116.56M1530.33 1107.06L1557.23 1134.08M1530.33 1124.58L1557.23 1151.6M1530.33 1142.1L1557.23 1169.12M1530.33 1159.62L1557.23 1186.64M1530.33 1177.14L1557.23 1204.16M1530.33 1194.66L1557.23 1221.68M1530.33 1212.18L1557.23 1239.2M1530.33 1229.7L1557.23 1256.72M1530.33 1247.22L1557.23 1274.24M1530.33 1264.74L1557.23 1291.76M1530.33 1282.26L1557.23 1309.28M1530.33 1299.78L1557.23 1326.8M1530.33 1317.3L1557.23 1344.32M1530.33 1334.82L1557.23 1361.84M1530.33 1352.34L1557.23 1379.36M1530.33 1369.86L1551.07 1390.7M1530.33 1387.38L1533.63 1390.7M1643.72 232.25L1645.37 230.6M1643.72 249.77L1662.81 230.6M1643.72 267.29L1670.62 240.27M1643.72 284.81L1670.62 257.79M1643.72 302.33L1670.62 275.31M1643.72 319.85L1670.62 292.83M1643.72 337.37L1670.62 310.35M1643.72 354.89L1670.62 327.87M1643.72 372.41L1670.62 345.39M1643.72 389.93L1670.62 362.91M1643.72 407.45L1670.62 380.43M1643.72 424.97L1670.62 397.95M1643.72 442.49L1670.62 415.47M1643.72 460.01L1670.62 432.99M1643.72 477.53L1670.62 450.51M1643.72 495.05L1670.62 468.03M1643.72 512.57L1670.62 485.55M1643.72 530.09L1670.62 503.07M1643.72 547.61L1670.62 520.59M1643.72 565.13L1670.62 538.11M1643.72 582.65L1670.62 555.63M1643.72 600.17L1670.62 573.15M1643.72 617.69L1670.62 590.67M1643.72 635.21L1670.62 608.19M1643.72 652.73L1670.62 625.71M1643.72 670.25L1670.62 643.23M1643.72 687.77L1670.62 660.75M1643.72 705.29L1670.62 678.27M1643.72 722.81L1670.62 695.79M1643.72 740.33L1670.62 713.31M1643.72 757.85L1670.62 730.83M1643.72 775.37L1670.62 748.35M1643.72 792.89L1670.62 765.87M1643.72 810.41L1670.62 783.39M1643.72 827.93L1670.62 800.91M1643.72 845.45L1670.62 818.43M1643.72 862.97L1670.62 835.95M1643.72 880.49L1670.62 853.47M1643.72 898.01L1670.62 870.99M1643.72 915.53L1670.62 888.51M1643.72 933.05L1670.62 906.03M1643.72 950.57L1670.62 923.55M1643.72 968.09L1670.62 941.07M1643.72 985.61L1670.62 958.59M1643.72 1003.13L1670.62 976.11M1643.72 1020.65L1670.62 993.63M1643.72 1038.17L1670.62 1011.15M1643.72 1055.69L1670.62 1028.67M1643.72 1073.21L1670.62 1046.19M1643.72 1090.73L1670.62 1063.71M1643.72 1108.25L1670.62 1081.23M1643.72 1125.77L1670.62 1098.75M1643.72 1143.29L1670.62 1116.27M1643.72 1160.81L1670.62 1133.79M1643.72 1178.33L1670.62 1151.31M1643.72 1195.85L1670.62 1168.83M1643.72 1213.37L1670.62 1186.35M1643.72 1230.89L1670.62 1203.87M1643.72 1248.41L1670.62 1221.39M1643.72 1265.93L1670.62 1238.91M1643.72 1283.45L1670.62 1256.43M1643.72 1300.97L1670.62 1273.95M1643.72 1318.49L1670.62 1291.47M1643.72 1336.01L1670.62 1308.99M1643.72 1353.53L1670.62 1326.51M1643.72 1371.05L1670.62 1344.03M1643.72 1388.57L1670.62 1361.55M1659.04 1390.7L1670.62 1379.07M1660.96 230.6L1670.62 240.3M1643.72 230.8L1670.62 257.82M1643.72 248.32L1670.62 275.34M1643.72 265.84L1670.62 292.86M1643.72 283.36L1670.62 310.38M1643.72 300.88L1670.62 327.9M1643.72 318.4L1670.62 345.42M1643.72 335.92L1670.62 362.94M1643.72 353.44L1670.62 380.46M1643.72 370.96L1670.62 397.98M1643.72 388.48L1670.62 415.5M1643.72 406L1670.62 433.02M1643.72 423.52L1670.62 450.54M1643.72 441.04L1670.62 468.06M1643.72 458.56L1670.62 485.58M1643.72 476.08L1670.62 503.1M1643.72 493.6L1670.62 520.62M1643.72 511.12L1670.62 538.14M1643.72 528.64L1670.62 555.66M1643.72 546.16L1670.62 573.18M1643.72 563.68L1670.62 590.7M1643.72 581.2L1670.62 608.22M1643.72 598.72L1670.62 625.74M1643.72 616.24L1670.62 643.26M1643.72 633.76L1670.62 660.78M1643.72 651.28L1670.62 678.3M1643.72 668.8L1670.62 695.82M1643.72 686.32L1670.62 713.34M1643.72 703.84L1670.62 730.86M1643.72 721.36L1670.62 748.38M1643.72 738.88L1670.62 765.9M1643.72 756.4L1670.62 783.42M1643.72 773.92L1670.62 800.94M1643.72 791.44L1670.62 818.46M1643.72 808.96L1670.62 835.98M1643.72 826.48L1670.62 853.5M1643.72 844L1670.62 871.02M1643.72 861.52L1670.62 888.54M1643.72 879.04L1670.62 906.06M1643.72 896.56L1670.62 923.58M1643.72 914.08L1670.62 941.1M1643.72 931.6L1670.62 958.62M1643.72 949.12L1670.62 976.14M1643.72 966.64L1670.62 993.66M1643.72 984.16L1670.62 1011.18M1643.72 1001.68L1670.62 1028.7M1643.72 1019.2L1670.62 1046.22M1643.72 1036.72L1670.62 1063.74M1643.72 1054.24L1670.62 1081.26M1643.72 1071.76L1670.62 1098.78M1643.72 1089.28L1670.62 1116.3M1643.72 1106.8L1670.62 1133.82M1643.72 1124.32L1670.62 1151.34M1643.72 1141.84L1670.62 1168.86M1643.72 1159.36L1670.62 1186.38M1643.72 1176.88L1670.62 1203.9M1643.72 1194.4L1670.62 1221.42M1643.72 1211.92L1670.62 1238.94M1643.72 1229.44L1670.62 1256.46M1643.72 1246.96L1670.62 1273.98M1643.72 1264.48L1670.62 1291.5M1643.72 1282L1670.62 1309.02M1643.72 1299.52L1670.62 1326.54M1643.72 1317.04L1670.62 1344.06M1643.72 1334.56L1670.62 1361.58M1643.72 1352.08L1670.62 1379.1M1643.72 1369.6L1664.73 1390.7M1643.72 1387.12L1647.29 1390.7M1757.12 1261.85L1758.76 1260.2M1757.12 1279.37L1776.2 1260.2M1757.12 1296.89L1784.02 1269.87M1757.12 1314.41L1784.02 1287.39M1757.12 1331.93L1784.02 1304.91M1757.12 1349.45L1784.02 1322.43M1757.12 1366.97L1784.02 1339.95M1757.12 1384.49L1784.02 1357.47M1768.37 1390.7L1784.02 1374.99M1774.36 1260.2L1784.02 1269.9M1757.12 1260.4L1784.02 1287.42M1757.12 1277.92L1784.02 1304.94M1757.12 1295.44L1784.02 1322.46M1757.12 1312.96L1784.02 1339.98M1757.12 1330.48L1784.02 1357.5M1757.12 1348L1784.02 1375.02M1757.12 1365.52L1782.18 1390.7M1757.12 1383.04L1764.74 1390.7M1870.51 689.45L1872.15 687.8M1870.51 706.97L1889.59 687.8M1870.51 724.49L1897.41 697.47M1870.51 742.01L1897.41 714.99M1870.51 759.53L1897.41 732.51M1870.51 777.05L1897.41 750.03M1870.51 794.57L1897.41 767.55M1870.51 812.09L1897.41 785.07M1870.51 829.61L1897.41 802.59M1870.51 847.13L1897.41 820.11M1870.51 864.65L1897.41 837.63M1870.51 882.17L1897.41 855.15M1870.51 899.69L1897.41 872.67M1870.51 917.21L1897.41 890.19M1870.51 934.73L1897.41 907.71M1870.51 952.25L1897.41 925.23M1870.51 969.77L1897.41 942.75M1870.51 987.29L1897.41 960.27M1870.51 1004.81L1897.41 977.79M1870.51 1022.33L1897.41 995.31M1870.51 1039.85L1897.41 1012.83M1870.51 1057.37L1897.41 1030.35M1870.51 1074.89L1897.41 1047.87M1870.51 1092.41L1897.41 1065.39M1870.51 1109.93L1897.41 1082.91M1870.51 1127.45L1897.41 1100.43M1870.51 1144.97L1897.41 1117.95M1870.51 1162.49L1897.41 1135.47M1870.51 1180.01L1897.41 1152.99M1870.51 1197.53L1897.41 1170.51M1870.51 1215.05L1897.41 1188.03M1870.51 1232.57L1897.41 1205.55M1870.51 1250.09L1897.41 1223.07M1870.51 1267.61L1897.41 1240.59M1870.51 1285.13L1897.41 1258.11M1870.51 1302.65L1897.41 1275.63M1870.51 1320.17L1897.41 1293.15M1870.51 1337.69L1897.41 1310.67M1870.51 1355.21L1897.41 1328.19M1870.51 1372.73L1897.41 1345.71M1870.51 1390.25L1897.41 1363.23M1887.5 1390.7L1897.41 1380.75M1887.75 687.8L1897.41 697.5M1870.51 688L1897.41 715.02M1870.51 705.52L1897.41 732.54M1870.51 723.04L1897.41 750.06M1870.51 740.56L1897.41 767.58M1870.51 758.08L1897.41 785.1M1870.51 775.6L1897.41 802.62M1870.51 793.12L1897.41 820.14M1870.51 810.64L1897.41 837.66M1870.51 828.16L1897.41 855.18M1870.51 845.68L1897.41 872.7M1870.51 863.2L1897.41 890.22M1870.51 880.72L1897.41 907.74M1870.51 898.24L1897.41 925.26M1870.51 915.76L1897.41 942.78M1870.51 933.28L1897.41 960.3M1870.51 950.8L1897.41 977.82M1870.51 968.32L1897.41 995.34M1870.51 985.84L1897.41 1012.86M1870.51 1003.36L1897.41 1030.38M1870.51 1020.88L1897.41 1047.9M1870.51 1038.4L1897.41 1065.42M1870.51 1055.92L1897.41 1082.94M1870.51 1073.44L1897.41 1100.46M1870.51 1090.96L1897.41 1117.98M1870.51 1108.48L1897.41 1135.5M1870.51 1126L1897.41 1153.02M1870.51 1143.52L1897.41 1170.54M1870.51 1161.04L1897.41 1188.06M1870.51 1178.56L1897.41 1205.58M1870.51 1196.08L1897.41 1223.1M1870.51 1213.6L1897.41 1240.62M1870.51 1231.12L1897.41 1258.14M1870.51 1248.64L1897.41 1275.66M1870.51 1266.16L1897.41 1293.18M1870.51 1283.68L1897.41 1310.7M1870.51 1301.2L1897.41 1328.22M1870.51 1318.72L1897.41 1345.74M1870.51 1336.24L1897.41 1363.26M1870.51 1353.76L1897.41 1380.78M1870.51 1371.28L1889.84 1390.7M1870.51 1388.8L1872.4 1390.7M1983.9 684.25L1985.54 682.6M1983.9 701.77L2002.98 682.6M1983.9 719.29L2010.8 692.27M1983.9 736.81L2010.8 709.79M1983.9 754.33L2010.8 727.31M1983.9 771.85L2010.8 744.83M1983.9 789.37L2010.8 762.35M1983.9 806.89L2010.8 779.87M1983.9 824.41L2010.8 797.39M1983.9 841.93L2010.8 814.91M1983.9 859.45L2010.8 832.43M1983.9 876.97L2010.8 849.95M1983.9 894.49L2010.8 867.47M1983.9 912.01L2010.8 884.99M1983.9 929.53L2010.8 902.51M1983.9 947.05L2010.8 920.03M1983.9 964.57L2010.8 937.55M1983.9 982.09L2010.8 955.07M1983.9 999.61L2010.8 972.59M1983.9 1017.13L2010.8 990.11M1983.9 1034.65L2010.8 1007.63M1983.9 1052.17L2010.8 1025.15M1983.9 1069.69L2010.8 1042.67M1983.9 1087.21L2010.8 1060.19M1983.9 1104.73L2010.8 1077.71M1983.9 1122.25L2010.8 1095.23M1983.9 1139.77L2010.8 1112.75M1983.9 1157.29L2010.8 1130.27M1983.9 1174.81L2010.8 1147.79M1983.9 1192.33L2010.8 1165.31M1983.9 1209.85L2010.8 1182.83M1983.9 1227.37L2010.8 1200.35M1983.9 1244.89L2010.8 1217.87M1983.9 1262.41L2010.8 1235.39M1983.9 1279.93L2010.8 1252.91M1983.9 1297.45L2010.8 1270.43M1983.9 1314.97L2010.8 1287.95M1983.9 1332.49L2010.8 1305.47M1983.9 1350.01L2010.8 1322.99M1983.9 1367.53L2010.8 1340.51M1983.9 1385.05L2010.8 1358.03M1995.72 1390.7L2010.8 1375.55M2001.14 682.6L2010.8 692.3M1983.9 682.8L2010.8 709.82M1983.9 700.32L2010.8 727.34M1983.9 717.84L2010.8 744.86M1983.9 735.36L2010.8 762.38M1983.9 752.88L2010.8 779.9M1983.9 770.4L2010.8 797.42M1983.9 787.92L2010.8 814.94M1983.9 805.44L2010.8 832.46M1983.9 822.96L2010.8 849.98M1983.9 840.48L2010.8 867.5M1983.9 858L2010.8 885.02M1983.9 875.52L2010.8 902.54M1983.9 893.04L2010.8 920.06M1983.9 910.56L2010.8 937.58M1983.9 928.08L2010.8 955.1M1983.9 945.6L2010.8 972.62M1983.9 963.12L2010.8 990.14M1983.9 980.64L2010.8 1007.66M1983.9 998.16L2010.8 1025.18M1983.9 1015.68L2010.8 1042.7M1983.9 1033.2L2010.8 1060.22M1983.9 1050.72L2010.8 1077.74M1983.9 1068.24L2010.8 1095.26M1983.9 1085.76L2010.8 1112.78M1983.9 1103.28L2010.8 1130.3M1983.9 1120.8L2010.8 1147.82M1983.9 1138.32L2010.8 1165.34M1983.9 1155.84L2010.8 1182.86M1983.9 1173.36L2010.8 1200.38M1983.9 1190.88L2010.8 1217.9M1983.9 1208.4L2010.8 1235.42M1983.9 1225.92L2010.8 1252.94M1983.9 1243.44L2010.8 1270.46M1983.9 1260.96L2010.8 1287.98M1983.9 1278.48L2010.8 1305.5M1983.9 1296L2010.8 1323.02M1983.9 1313.52L2010.8 1340.54M1983.9 1331.04L2010.8 1358.06M1983.9 1348.56L2010.8 1375.58M1983.9 1366.08L2008.41 1390.7M1983.9 1383.6L1990.97 1390.7M2097.3 865.85L2098.94 864.2M2097.3 883.37L2116.38 864.2M2097.3 900.89L2124.19 873.87M2097.3 918.41L2124.19 891.39M2097.3 935.93L2124.19 908.91M2097.3 953.45L2124.19 926.43M2097.3 970.97L2124.19 943.95M2097.3 988.49L2124.19 961.47M2097.3 1006.01L2124.19 978.99M2097.3 1023.53L2124.19 996.51M2097.3 1041.05L2124.19 1014.03M2097.3 1058.57L2124.19 1031.55M2097.3 1076.09L2124.19 1049.07M2097.3 1093.61L2124.19 1066.59M2097.3 1111.13L2124.19 1084.11M2097.3 1128.65L2124.19 1101.63M2097.3 1146.17L2124.19 1119.15M2097.3 1163.69L2124.19 1136.67M2097.3 1181.21L2124.19 1154.19M2097.3 1198.73L2124.19 1171.71M2097.3 1216.25L2124.19 1189.23M2097.3 1233.77L2124.19 1206.75M2097.3 1251.29L2124.19 1224.27M2097.3 1268.81L2124.19 1241.79M2097.3 1286.33L2124.19 1259.31M2097.3 1303.85L2124.19 1276.83M2097.3 1321.37L2124.19 1294.35M2097.3 1338.89L2124.19 1311.87M2097.3 1356.41L2124.19 1329.39M2097.3 1373.93L2124.19 1346.91M2098.04 1390.7L2124.19 1364.43M2115.48 1390.7L2124.19 1381.95M2114.54 864.2L2124.19 873.9M2097.3 864.4L2124.19 891.42M2097.3 881.92L2124.19 908.94M2097.3 899.44L2124.19 926.46M2097.3 916.96L2124.19 943.98M2097.3 934.48L2124.19 961.5M2097.3 952L2124.19 979.02M2097.3 969.52L2124.19 996.54M2097.3 987.04L2124.19 1014.06M2097.3 1004.56L2124.19 1031.58M2097.3 1022.08L2124.19 1049.1M2097.3 1039.6L2124.19 1066.62M2097.3 1057.12L2124.19 1084.14M2097.3 1074.64L2124.19 1101.66M2097.3 1092.16L2124.19 1119.18M2097.3 1109.68L2124.19 1136.7M2097.3 1127.2L2124.19 1154.22M2097.3 1144.72L2124.19 1171.74M2097.3 1162.24L2124.19 1189.26M2097.3 1179.76L2124.19 1206.78M2097.3 1197.28L2124.19 1224.3M2097.3 1214.8L2124.19 1241.82M2097.3 1232.32L2124.19 1259.34M2097.3 1249.84L2124.19 1276.86M2097.3 1267.36L2124.19 1294.38M2097.3 1284.88L2124.19 1311.9M2097.3 1302.4L2124.19 1329.42M2097.3 1319.92L2124.19 1346.94M2097.3 1337.44L2124.19 1364.46M2097.3 1354.96L2124.19 1381.98M2097.3 1372.48L2115.43 1390.7M2097.3 1390L2097.99 1390.7" stroke-width="2.55"/>
<path d="M340.8 1390.7V1147.7H367.6V1390.7M368.7 1390.7V691H395.1V1390.7M396.4 1390.7V304.4H423.3V1390.7M454.19 1390.7V1360.5H480.99V1390.7M482.09 1390.7V1331.1H508.49V1390.7M509.79 1390.7V1112.1H536.69V1390.7M567.59 1390.7V1367.3H594.39V1390.7M595.49 1390.7V1333.8H621.89V1390.7M623.19 1390.7V1250.2H650.09V1390.7M680.98 1390.7V1333.8H707.78V1390.7M708.88 1390.7V765.4H735.28V1390.7M736.58 1390.7V191.8H763.48V1390.7M794.37 1390.7V1354.5H821.17V1390.7M822.27 1390.7V1308.4H848.67V1390.7M849.97 1390.7V902.8H876.87V1390.7M907.77 1390.7V1370.1H934.57V1390.7M935.67 1390.7V1341.8H962.07V1390.7M963.37 1390.7V1245.5H990.27V1390.7M1021.16 1390.7V1335.4H1047.96V1390.7M1049.06 1390.7V1272.1H1075.46V1390.7M1076.76 1390.7V666.3H1103.66V1390.7M1134.55 1390.7V1339.4H1161.35V1390.7M1162.45 1390.7V1152.3H1188.85V1390.7M1190.15 1390.7V252.1H1217.05V1390.7M1247.94 1390.7V1325.9H1274.74V1390.7M1275.84 1390.7V787.3H1302.24V1390.7M1303.54 1390.7V129H1330.44V1390.7M1361.34 1390.7V1350H1388.14V1390.7M1389.24 1390.7V1028.9H1415.64V1390.7M1416.94 1390.7V242.9H1443.84V1390.7M1474.73 1390.7V1364.2H1501.53V1390.7M1502.63 1390.7V1245.1H1529.03V1390.7M1530.33 1390.7V1054.3H1557.23V1390.7M1588.12 1390.7V1360.5H1614.92V1390.7M1616.02 1390.7V1200.1H1642.42V1390.7M1643.72 1390.7V230.6H1670.62V1390.7M1701.52 1390.7V1364.5H1728.32V1390.7M1729.42 1390.7V1345H1755.82V1390.7M1757.12 1390.7V1260.2H1784.02V1390.7M1814.91 1390.7V1364.5H1841.71V1390.7M1842.81 1390.7V1186.1H1869.21V1390.7M1870.51 1390.7V687.8H1897.41V1390.7M1928.3 1390.7V1339H1955.1V1390.7M1956.2 1390.7V1181.8H1982.6V1390.7M1983.9 1390.7V682.6H2010.8V1390.7M2041.69 1390.7V1352.6H2068.49V1390.7M2069.59 1390.7V1231.5H2095.99V1390.7M2097.3 1390.7V864.2H2124.19V1390.7" stroke-width="3.6" stroke-linejoin="round"/>
</g>
<g stroke="#000" stroke-linecap="round" fill="none">
<path d="M313.9 29.4 V1390.7" stroke-width="5.7"/>
<path d="M313.9 1390.7 H2138.9" stroke-width="5.4"/>
<path d="M313.9 1371.6 H286.9M313.9 1244.79 H286.9M313.9 1117.98 H286.9M313.9 991.17 H286.9M313.9 864.36 H286.9M313.9 737.55 H286.9M313.9 610.74 H286.9M313.9 483.93 H286.9M313.9 357.12 H286.9M313.9 230.31 H286.9M313.9 103.5 H286.9M313.9 1308.19 H300.4M313.9 1181.38 H300.4M313.9 1054.57 H300.4M313.9 927.76 H300.4M313.9 800.95 H300.4M313.9 674.14 H300.4M313.9 547.33 H300.4M313.9 420.52 H300.4M313.9 293.71 H300.4M313.9 166.9 H300.4M313.9 40.1 H300.4M381.6 1390.7 V1404.2M494.99 1390.7 V1417.5M608.39 1390.7 V1404.2M721.78 1390.7 V1417.5M835.17 1390.7 V1404.2M948.57 1390.7 V1417.5M1061.96 1390.7 V1404.2M1175.35 1390.7 V1417.5M1288.74 1390.7 V1404.2M1402.14 1390.7 V1417.5M1515.53 1390.7 V1404.2M1628.92 1390.7 V1417.5M1742.32 1390.7 V1404.2M1855.71 1390.7 V1417.5M1969.1 1390.7 V1404.2M2082.49 1390.7 V1417.5" stroke-width="5.7"/>
</g>
<rect x="1747.8" y="97.4" width="391.6" height="249" fill="#fff" stroke="#000" stroke-width="2.3"/>
<g fill="none" stroke="#000">
<path d="M1760.04 115.1L1761.43 113.7M1760.04 154.1L1800.03 113.7M1783.3 169.6L1838.63 113.7M1821.9 169.6L1877.23 113.7M1860.5 169.6L1903.1 126.56M1899.1 169.6L1903.1 165.56" stroke-width="2.7"/>
<rect x="1760.04" y="113.7" width="143.06" height="55.9" stroke-width="3.65" stroke-linejoin="round"/>
<path d="M1760.04 197.07L1761.43 195.67M1760.04 236.07L1800.03 195.67M1783.3 251.57L1838.63 195.67M1821.9 251.57L1877.23 195.67M1860.5 251.57L1903.1 208.53M1899.1 251.57L1903.1 247.53" stroke-width="2.7"/>
<rect x="1760.04" y="195.67" width="143.06" height="55.9" stroke-width="3.65" stroke-linejoin="round"/>
<path d="M1760.04 279.29L1761.68 277.64M1760.04 296.81L1779.12 277.64M1760.04 314.33L1796.56 277.64M1760.04 331.85L1814 277.64M1775.8 333.54L1831.44 277.64M1793.24 333.54L1848.88 277.64M1810.68 333.54L1866.32 277.64M1828.12 333.54L1883.76 277.64M1845.56 333.54L1901.2 277.64M1863 333.54L1903.1 293.25M1880.44 333.54L1903.1 310.77M1897.88 333.54L1903.1 328.29M1899.36 277.64L1903.1 281.4M1881.92 277.64L1903.1 298.92M1864.48 277.64L1903.1 316.44M1847.04 277.64L1902.69 333.54M1829.6 277.64L1885.25 333.54M1812.16 277.64L1867.81 333.54M1794.72 277.64L1850.37 333.54M1777.28 277.64L1832.93 333.54M1760.04 277.84L1815.49 333.54M1760.04 295.36L1798.05 333.54M1760.04 312.88L1780.61 333.54M1760.04 330.4L1763.17 333.54" stroke-width="2.55"/>
<rect x="1760.04" y="277.64" width="143.06" height="55.9" stroke-width="3.65" stroke-linejoin="round"/>
</g>
<g fill="none" stroke="#000">
<path d="M242 3225.2L243.29 3223.9M242 3267.8L270.2 3239.29M365.27 3241.1L366.56 3239.8M376.25 3272.6L393.47 3255.19M488.54 3192.5L489.83 3191.2M488.54 3235.1L516.74 3206.59M493.58 3272.6L516.74 3249.19M611.81 3247.9L613.1 3246.6M629.52 3272.6L640.01 3261.99M735.08 3222L736.37 3220.7M735.08 3264.6L763.28 3236.09M858.35 3244.7L859.64 3243.4M872.89 3272.6L886.55 3258.79M981.62 3252.3L982.91 3251M1003.68 3272.6L1009.82 3266.39M1104.89 3214.8L1106.18 3213.5M1104.89 3257.4L1133.09 3228.89M1131.99 3272.6L1133.09 3271.49M1228.16 3131.2L1229.45 3129.9M1228.16 3173.8L1256.36 3145.29M1228.16 3216.4L1256.36 3187.89M1228.16 3259L1256.36 3230.49M1351.43 3225.2L1352.72 3223.9M1351.43 3267.8L1379.63 3239.29M1474.7 3228L1475.99 3226.7M1474.7 3270.6L1502.9 3242.09M1597.97 3192.5L1599.26 3191.2M1597.97 3235.1L1626.17 3206.59M1603.01 3272.6L1626.17 3249.19M1721.24 3192.5L1722.53 3191.2M1721.24 3235.1L1749.44 3206.59M1726.28 3272.6L1749.44 3249.19M1844.51 3234.8L1845.8 3233.5M1849.26 3272.6L1872.71 3248.89M1967.78 3247.9L1969.07 3246.6M1985.49 3272.6L1995.98 3261.99M2091.05 3247.9L2092.34 3246.6M2108.76 3272.6L2119.25 3261.99" stroke-width="2.9"/>
<path d="M291.01 2996.2L300.7 3006.01M272.3 2996.35L300.7 3025.11M272.3 3015.45L300.7 3044.21M272.3 3034.55L300.7 3063.31M272.3 3053.65L300.7 3082.41M272.3 3072.75L300.7 3101.51M272.3 3091.85L300.7 3120.61M272.3 3110.95L300.7 3139.71M272.3 3130.05L300.7 3158.81M272.3 3149.15L300.7 3177.91M272.3 3168.25L300.7 3197.01M272.3 3187.35L300.7 3216.11M272.3 3206.45L300.7 3235.21M272.3 3225.55L300.7 3254.31M272.3 3244.65L299.9 3272.6M272.3 3263.75L281.04 3272.6M414.28 3191.2L423.97 3201.01M395.57 3191.35L423.97 3220.11M395.57 3210.45L423.97 3239.21M395.57 3229.55L423.97 3258.31M395.57 3248.65L419.22 3272.6M395.57 3267.75L400.36 3272.6M537.55 3093.7L547.24 3103.51M518.84 3093.85L547.24 3122.61M518.84 3112.95L547.24 3141.71M518.84 3132.05L547.24 3160.81M518.84 3151.15L547.24 3179.91M518.84 3170.25L547.24 3199.01M518.84 3189.35L547.24 3218.11M518.84 3208.45L547.24 3237.21M518.84 3227.55L547.24 3256.31M518.84 3246.65L544.46 3272.6M518.84 3265.75L525.6 3272.6M660.82 3159.8L670.51 3169.61M642.11 3159.95L670.51 3188.71M642.11 3179.05L670.51 3207.81M642.11 3198.15L670.51 3226.91M642.11 3217.25L670.51 3246.01M642.11 3236.35L670.51 3265.11M642.11 3255.45L659.04 3272.6M784.09 2985.8L793.78 2995.61M765.38 2985.95L793.78 3014.71M765.38 3005.05L793.78 3033.81M765.38 3024.15L793.78 3052.91M765.38 3043.25L793.78 3072.01M765.38 3062.35L793.78 3091.11M765.38 3081.45L793.78 3110.21M765.38 3100.55L793.78 3129.31M765.38 3119.65L793.78 3148.41M765.38 3138.75L793.78 3167.51M765.38 3157.85L793.78 3186.61M765.38 3176.95L793.78 3205.71M765.38 3196.05L793.78 3224.81M765.38 3215.15L793.78 3243.91M765.38 3234.25L793.78 3263.01M765.38 3253.35L784.39 3272.6M907.36 3135.5L917.05 3145.31M888.65 3135.65L917.05 3164.41M888.65 3154.75L917.05 3183.51M888.65 3173.85L917.05 3202.61M888.65 3192.95L917.05 3221.71M888.65 3212.05L917.05 3240.81M888.65 3231.15L917.05 3259.91M888.65 3250.25L910.72 3272.6M888.65 3269.35L891.86 3272.6M1030.63 3093.7L1040.32 3103.51M1011.92 3093.85L1040.32 3122.61M1011.92 3112.95L1040.32 3141.71M1011.92 3132.05L1040.32 3160.81M1011.92 3151.15L1040.32 3179.91M1011.92 3170.25L1040.32 3199.01M1011.92 3189.35L1040.32 3218.11M1011.92 3208.45L1040.32 3237.21M1011.92 3227.55L1040.32 3256.31M1011.92 3246.65L1037.54 3272.6M1011.92 3265.75L1018.68 3272.6M1153.9 2930.9L1163.59 2940.71M1135.19 2931.05L1163.59 2959.81M1135.19 2950.15L1163.59 2978.91M1135.19 2969.25L1163.59 2998.01M1135.19 2988.35L1163.59 3017.11M1135.19 3007.45L1163.59 3036.21M1135.19 3026.55L1163.59 3055.31M1135.19 3045.65L1163.59 3074.41M1135.19 3064.75L1163.59 3093.51M1135.19 3083.85L1163.59 3112.61M1135.19 3102.95L1163.59 3131.71M1135.19 3122.05L1163.59 3150.81M1135.19 3141.15L1163.59 3169.91M1135.19 3160.25L1163.59 3189.01M1135.19 3179.35L1163.59 3208.11M1135.19 3198.45L1163.59 3227.21M1135.19 3217.55L1163.59 3246.31M1135.19 3236.65L1163.59 3265.41M1135.19 3255.75L1151.83 3272.6M1277.17 2930.9L1286.86 2940.71M1258.46 2931.05L1286.86 2959.81M1258.46 2950.15L1286.86 2978.91M1258.46 2969.25L1286.86 2998.01M1258.46 2988.35L1286.86 3017.11M1258.46 3007.45L1286.86 3036.21M1258.46 3026.55L1286.86 3055.31M1258.46 3045.65L1286.86 3074.41M1258.46 3064.75L1286.86 3093.51M1258.46 3083.85L1286.86 3112.61M1258.46 3102.95L1286.86 3131.71M1258.46 3122.05L1286.86 3150.81M1258.46 3141.15L1286.86 3169.91M1258.46 3160.25L1286.86 3189.01M1258.46 3179.35L1286.86 3208.11M1258.46 3198.45L1286.86 3227.21M1258.46 3217.55L1286.86 3246.31M1258.46 3236.65L1286.86 3265.41M1258.46 3255.75L1275.1 3272.6M1400.44 2996.2L1410.13 3006.01M1381.73 2996.35L1410.13 3025.11M1381.73 3015.45L1410.13 3044.21M1381.73 3034.55L1410.13 3063.31M1381.73 3053.65L1410.13 3082.41M1381.73 3072.75L1410.13 3101.51M1381.73 3091.85L1410.13 3120.61M1381.73 3110.95L1410.13 3139.71M1381.73 3130.05L1410.13 3158.81M1381.73 3149.15L1410.13 3177.91M1381.73 3168.25L1410.13 3197.01M1381.73 3187.35L1410.13 3216.11M1381.73 3206.45L1410.13 3235.21M1381.73 3225.55L1410.13 3254.31M1381.73 3244.65L1409.33 3272.6M1381.73 3263.75L1390.47 3272.6M1523.71 2962.7L1533.4 2972.51M1505 2962.85L1533.4 2991.61M1505 2981.95L1533.4 3010.71M1505 3001.05L1533.4 3029.81M1505 3020.15L1533.4 3048.91M1505 3039.25L1533.4 3068.01M1505 3058.35L1533.4 3087.11M1505 3077.45L1533.4 3106.21M1505 3096.55L1533.4 3125.31M1505 3115.65L1533.4 3144.41M1505 3134.75L1533.4 3163.51M1505 3153.85L1533.4 3182.61M1505 3172.95L1533.4 3201.71M1505 3192.05L1533.4 3220.81M1505 3211.15L1533.4 3239.91M1505 3230.25L1533.4 3259.01M1505 3249.35L1527.96 3272.6M1505 3268.45L1509.1 3272.6M1646.98 2865L1656.67 2874.81M1628.27 2865.15L1656.67 2893.91M1628.27 2884.25L1656.67 2913.01M1628.27 2903.35L1656.67 2932.11M1628.27 2922.45L1656.67 2951.21M1628.27 2941.55L1656.67 2970.31M1628.27 2960.65L1656.67 2989.41M1628.27 2979.75L1656.67 3008.51M1628.27 2998.85L1656.67 3027.61M1628.27 3017.95L1656.67 3046.71M1628.27 3037.05L1656.67 3065.81M1628.27 3056.15L1656.67 3084.91M1628.27 3075.25L1656.67 3104.01M1628.27 3094.35L1656.67 3123.11M1628.27 3113.45L1656.67 3142.21M1628.27 3132.55L1656.67 3161.31M1628.27 3151.65L1656.67 3180.41M1628.27 3170.75L1656.67 3199.51M1628.27 3189.85L1656.67 3218.61M1628.27 3208.95L1656.67 3237.71M1628.27 3228.05L1656.67 3256.81M1628.27 3247.15L1653.4 3272.6M1628.27 3266.25L1634.54 3272.6M1770.25 2898L1779.94 2907.81M1751.54 2898.15L1779.94 2926.91M1751.54 2917.25L1779.94 2946.01M1751.54 2936.35L1779.94 2965.11M1751.54 2955.45L1779.94 2984.21M1751.54 2974.55L1779.94 3003.31M1751.54 2993.65L1779.94 3022.41M1751.54 3012.75L1779.94 3041.51M1751.54 3031.85L1779.94 3060.61M1751.54 3050.95L1779.94 3079.71M1751.54 3070.05L1779.94 3098.81M1751.54 3089.15L1779.94 3117.91M1751.54 3108.25L1779.94 3137.01M1751.54 3127.35L1779.94 3156.11M1751.54 3146.45L1779.94 3175.21M1751.54 3165.55L1779.94 3194.31M1751.54 3184.65L1779.94 3213.41M1751.54 3203.75L1779.94 3232.51M1751.54 3222.85L1779.94 3251.61M1751.54 3241.95L1779.94 3270.71M1751.54 3261.05L1762.94 3272.6M1893.52 3200.4L1903.21 3210.21M1874.81 3200.55L1903.21 3229.31M1874.81 3219.65L1903.21 3248.41M1874.81 3238.75L1903.21 3267.51M1874.81 3257.85L1889.37 3272.6M2016.79 3161.8L2026.48 3171.61M1998.08 3161.95L2026.48 3190.71M1998.08 3181.05L2026.48 3209.81M1998.08 3200.15L2026.48 3228.91M1998.08 3219.25L2026.48 3248.01M1998.08 3238.35L2026.48 3267.11M1998.08 3257.45L2013.04 3272.6M2140.06 3155.8L2149.75 3165.61M2121.35 3155.95L2149.75 3184.71M2121.35 3175.05L2149.75 3203.81M2121.35 3194.15L2149.75 3222.91M2121.35 3213.25L2149.75 3242.01M2121.35 3232.35L2149.75 3261.11M2121.35 3251.45L2142.23 3272.6M2121.35 3270.55L2123.37 3272.6" stroke-width="2.9"/>
<path d="M302.5 2606.6L304.47 2604.6M302.5 2625.7L323.33 2604.6M302.5 2644.8L331.5 2615.43M302.5 2663.9L331.5 2634.53M302.5 2683L331.5 2653.63M302.5 2702.1L331.5 2672.73M302.5 2721.2L331.5 2691.83M302.5 2740.3L331.5 2710.93M302.5 2759.4L331.5 2730.03M302.5 2778.5L331.5 2749.13M302.5 2797.6L331.5 2768.23M302.5 2816.7L331.5 2787.33M302.5 2835.8L331.5 2806.43M302.5 2854.9L331.5 2825.53M302.5 2874L331.5 2844.63M302.5 2893.1L331.5 2863.73M302.5 2912.2L331.5 2882.83M302.5 2931.3L331.5 2901.93M302.5 2950.4L331.5 2921.03M302.5 2969.5L331.5 2940.13M302.5 2988.6L331.5 2959.23M302.5 3007.7L331.5 2978.33M302.5 3026.8L331.5 2997.43M302.5 3045.9L331.5 3016.53M302.5 3065L331.5 3035.63M302.5 3084.1L331.5 3054.73M302.5 3103.2L331.5 3073.83M302.5 3122.3L331.5 3092.93M302.5 3141.4L331.5 3112.03M302.5 3160.5L331.5 3131.13M302.5 3179.6L331.5 3150.23M302.5 3198.7L331.5 3169.33M302.5 3217.8L331.5 3188.43M302.5 3236.9L331.5 3207.53M302.5 3256L331.5 3226.63M304.97 3272.6L331.5 3245.73M323.83 3272.6L331.5 3264.83M321.21 2604.6L331.5 2615.02M302.5 2604.75L331.5 2634.12M302.5 2623.85L331.5 2653.22M302.5 2642.95L331.5 2672.32M302.5 2662.05L331.5 2691.42M302.5 2681.15L331.5 2710.52M302.5 2700.25L331.5 2729.62M302.5 2719.35L331.5 2748.72M302.5 2738.45L331.5 2767.82M302.5 2757.55L331.5 2786.92M302.5 2776.65L331.5 2806.02M302.5 2795.75L331.5 2825.12M302.5 2814.85L331.5 2844.22M302.5 2833.95L331.5 2863.32M302.5 2853.05L331.5 2882.42M302.5 2872.15L331.5 2901.52M302.5 2891.25L331.5 2920.62M302.5 2910.35L331.5 2939.72M302.5 2929.45L331.5 2958.82M302.5 2948.55L331.5 2977.92M302.5 2967.65L331.5 2997.02M302.5 2986.75L331.5 3016.12M302.5 3005.85L331.5 3035.22M302.5 3024.95L331.5 3054.32M302.5 3044.05L331.5 3073.42M302.5 3063.15L331.5 3092.52M302.5 3082.25L331.5 3111.62M302.5 3101.35L331.5 3130.72M302.5 3120.45L331.5 3149.82M302.5 3139.55L331.5 3168.92M302.5 3158.65L331.5 3188.02M302.5 3177.75L331.5 3207.12M302.5 3196.85L331.5 3226.22M302.5 3215.95L331.5 3245.32M302.5 3235.05L331.5 3264.42M302.5 3254.15L320.72 3272.6M425.77 2932.9L427.74 2930.9M425.77 2952L446.6 2930.9M425.77 2971.1L454.77 2941.73M425.77 2990.2L454.77 2960.83M425.77 3009.3L454.77 2979.93M425.77 3028.4L454.77 2999.03M425.77 3047.5L454.77 3018.13M425.77 3066.6L454.77 3037.23M425.77 3085.7L454.77 3056.33M425.77 3104.8L454.77 3075.43M425.77 3123.9L454.77 3094.53M425.77 3143L454.77 3113.63M425.77 3162.1L454.77 3132.73M425.77 3181.2L454.77 3151.83M425.77 3200.3L454.77 3170.93M425.77 3219.4L454.77 3190.03M425.77 3238.5L454.77 3209.13M425.77 3257.6L454.77 3228.23M429.82 3272.6L454.77 3247.33M448.68 3272.6L454.77 3266.43M444.48 2930.9L454.77 2941.32M425.77 2931.05L454.77 2960.42M425.77 2950.15L454.77 2979.52M425.77 2969.25L454.77 2998.62M425.77 2988.35L454.77 3017.72M425.77 3007.45L454.77 3036.82M425.77 3026.55L454.77 3055.92M425.77 3045.65L454.77 3075.02M425.77 3064.75L454.77 3094.12M425.77 3083.85L454.77 3113.22M425.77 3102.95L454.77 3132.32M425.77 3122.05L454.77 3151.42M425.77 3141.15L454.77 3170.52M425.77 3160.25L454.77 3189.62M425.77 3179.35L454.77 3208.72M425.77 3198.45L454.77 3227.82M425.77 3217.55L454.77 3246.92M425.77 3236.65L454.77 3266.02M425.77 3255.75L442.41 3272.6M549.04 2834.7L551.01 2832.7M549.04 2853.8L569.87 2832.7M549.04 2872.9L578.04 2843.53M549.04 2892L578.04 2862.63M549.04 2911.1L578.04 2881.73M549.04 2930.2L578.04 2900.83M549.04 2949.3L578.04 2919.93M549.04 2968.4L578.04 2939.03M549.04 2987.5L578.04 2958.13M549.04 3006.6L578.04 2977.23M549.04 3025.7L578.04 2996.33M549.04 3044.8L578.04 3015.43M549.04 3063.9L578.04 3034.53M549.04 3083L578.04 3053.63M549.04 3102.1L578.04 3072.73M549.04 3121.2L578.04 3091.83M549.04 3140.3L578.04 3110.93M549.04 3159.4L578.04 3130.03M549.04 3178.5L578.04 3149.13M549.04 3197.6L578.04 3168.23M549.04 3216.7L578.04 3187.33M549.04 3235.8L578.04 3206.43M549.04 3254.9L578.04 3225.53M550.42 3272.6L578.04 3244.63M569.28 3272.6L578.04 3263.73M567.75 2832.7L578.04 2843.12M549.04 2832.85L578.04 2862.22M549.04 2851.95L578.04 2881.32M549.04 2871.05L578.04 2900.42M549.04 2890.15L578.04 2919.52M549.04 2909.25L578.04 2938.62M549.04 2928.35L578.04 2957.72M549.04 2947.45L578.04 2976.82M549.04 2966.55L578.04 2995.92M549.04 2985.65L578.04 3015.02M549.04 3004.75L578.04 3034.12M549.04 3023.85L578.04 3053.22M549.04 3042.95L578.04 3072.32M549.04 3062.05L578.04 3091.42M549.04 3081.15L578.04 3110.52M549.04 3100.25L578.04 3129.62M549.04 3119.35L578.04 3148.72M549.04 3138.45L578.04 3167.82M549.04 3157.55L578.04 3186.92M549.04 3176.65L578.04 3206.02M549.04 3195.75L578.04 3225.12M549.04 3214.85L578.04 3244.22M549.04 3233.95L578.04 3263.32M549.04 3253.05L568.34 3272.6M672.31 2606.6L674.28 2604.6M672.31 2625.7L693.14 2604.6M672.31 2644.8L701.31 2615.43M672.31 2663.9L701.31 2634.53M672.31 2683L701.31 2653.63M672.31 2702.1L701.31 2672.73M672.31 2721.2L701.31 2691.83M672.31 2740.3L701.31 2710.93M672.31 2759.4L701.31 2730.03M672.31 2778.5L701.31 2749.13M672.31 2797.6L701.31 2768.23M672.31 2816.7L701.31 2787.33M672.31 2835.8L701.31 2806.43M672.31 2854.9L701.31 2825.53M672.31 2874L701.31 2844.63M672.31 2893.1L701.31 2863.73M672.31 2912.2L701.31 2882.83M672.31 2931.3L701.31 2901.93M672.31 2950.4L701.31 2921.03M672.31 2969.5L701.31 2940.13M672.31 2988.6L701.31 2959.23M672.31 3007.7L701.31 2978.33M672.31 3026.8L701.31 2997.43M672.31 3045.9L701.31 3016.53M672.31 3065L701.31 3035.63M672.31 3084.1L701.31 3054.73M672.31 3103.2L701.31 3073.83M672.31 3122.3L701.31 3092.93M672.31 3141.4L701.31 3112.03M672.31 3160.5L701.31 3131.13M672.31 3179.6L701.31 3150.23M672.31 3198.7L701.31 3169.33M672.31 3217.8L701.31 3188.43M672.31 3236.9L701.31 3207.53M672.31 3256L701.31 3226.63M674.78 3272.6L701.31 3245.73M693.64 3272.6L701.31 3264.83M691.02 2604.6L701.31 2615.02M672.31 2604.75L701.31 2634.12M672.31 2623.85L701.31 2653.22M672.31 2642.95L701.31 2672.32M672.31 2662.05L701.31 2691.42M672.31 2681.15L701.31 2710.52M672.31 2700.25L701.31 2729.62M672.31 2719.35L701.31 2748.72M672.31 2738.45L701.31 2767.82M672.31 2757.55L701.31 2786.92M672.31 2776.65L701.31 2806.02M672.31 2795.75L701.31 2825.12M672.31 2814.85L701.31 2844.22M672.31 2833.95L701.31 2863.32M672.31 2853.05L701.31 2882.42M672.31 2872.15L701.31 2901.52M672.31 2891.25L701.31 2920.62M672.31 2910.35L701.31 2939.72M672.31 2929.45L701.31 2958.82M672.31 2948.55L701.31 2977.92M672.31 2967.65L701.31 2997.02M672.31 2986.75L701.31 3016.12M672.31 3005.85L701.31 3035.22M672.31 3024.95L701.31 3054.32M672.31 3044.05L701.31 3073.42M672.31 3063.15L701.31 3092.52M672.31 3082.25L701.31 3111.62M672.31 3101.35L701.31 3130.72M672.31 3120.45L701.31 3149.82M672.31 3139.55L701.31 3168.92M672.31 3158.65L701.31 3188.02M672.31 3177.75L701.31 3207.12M672.31 3196.85L701.31 3226.22M672.31 3215.95L701.31 3245.32M672.31 3235.05L701.31 3264.42M672.31 3254.15L690.53 3272.6M795.58 2694.2L797.55 2692.2M795.58 2713.3L816.41 2692.2M795.58 2732.4L824.58 2703.03M795.58 2751.5L824.58 2722.13M795.58 2770.6L824.58 2741.23M795.58 2789.7L824.58 2760.33M795.58 2808.8L824.58 2779.43M795.58 2827.9L824.58 2798.53M795.58 2847L824.58 2817.63M795.58 2866.1L824.58 2836.73M795.58 2885.2L824.58 2855.83M795.58 2904.3L824.58 2874.93M795.58 2923.4L824.58 2894.03M795.58 2942.5L824.58 2913.13M795.58 2961.6L824.58 2932.23M795.58 2980.7L824.58 2951.33M795.58 2999.8L824.58 2970.43M795.58 3018.9L824.58 2989.53M795.58 3038L824.58 3008.63M795.58 3057.1L824.58 3027.73M795.58 3076.2L824.58 3046.83M795.58 3095.3L824.58 3065.93M795.58 3114.4L824.58 3085.03M795.58 3133.5L824.58 3104.13M795.58 3152.6L824.58 3123.23M795.58 3171.7L824.58 3142.33M795.58 3190.8L824.58 3161.43M795.58 3209.9L824.58 3180.53M795.58 3229L824.58 3199.63M795.58 3248.1L824.58 3218.73M795.58 3267.2L824.58 3237.83M809.11 3272.6L824.58 3256.93M814.29 2692.2L824.58 2702.62M795.58 2692.35L824.58 2721.72M795.58 2711.45L824.58 2740.82M795.58 2730.55L824.58 2759.92M795.58 2749.65L824.58 2779.02M795.58 2768.75L824.58 2798.12M795.58 2787.85L824.58 2817.22M795.58 2806.95L824.58 2836.32M795.58 2826.05L824.58 2855.42M795.58 2845.15L824.58 2874.52M795.58 2864.25L824.58 2893.62M795.58 2883.35L824.58 2912.72M795.58 2902.45L824.58 2931.82M795.58 2921.55L824.58 2950.92M795.58 2940.65L824.58 2970.02M795.58 2959.75L824.58 2989.12M795.58 2978.85L824.58 3008.22M795.58 2997.95L824.58 3027.32M795.58 3017.05L824.58 3046.42M795.58 3036.15L824.58 3065.52M795.58 3055.25L824.58 3084.62M795.58 3074.35L824.58 3103.72M795.58 3093.45L824.58 3122.82M795.58 3112.55L824.58 3141.92M795.58 3131.65L824.58 3161.02M795.58 3150.75L824.58 3180.12M795.58 3169.85L824.58 3199.22M795.58 3188.95L824.58 3218.32M795.58 3208.05L824.58 3237.42M795.58 3227.15L824.58 3256.52M795.58 3246.25L821.6 3272.6M795.58 3265.35L802.74 3272.6M918.85 2769.1L920.82 2767.1M918.85 2788.2L939.68 2767.1M918.85 2807.3L947.85 2777.93M918.85 2826.4L947.85 2797.03M918.85 2845.5L947.85 2816.13M918.85 2864.6L947.85 2835.23M918.85 2883.7L947.85 2854.33M918.85 2902.8L947.85 2873.43M918.85 2921.9L947.85 2892.53M918.85 2941L947.85 2911.63M918.85 2960.1L947.85 2930.73M918.85 2979.2L947.85 2949.83M918.85 2998.3L947.85 2968.93M918.85 3017.4L947.85 2988.03M918.85 3036.5L947.85 3007.13M918.85 3055.6L947.85 3026.23M918.85 3074.7L947.85 3045.33M918.85 3093.8L947.85 3064.43M918.85 3112.9L947.85 3083.53M918.85 3132L947.85 3102.63M918.85 3151.1L947.85 3121.73M918.85 3170.2L947.85 3140.83M918.85 3189.3L947.85 3159.93M918.85 3208.4L947.85 3179.03M918.85 3227.5L947.85 3198.13M918.85 3246.6L947.85 3217.23M918.85 3265.7L947.85 3236.33M930.9 3272.6L947.85 3255.43M937.56 2767.1L947.85 2777.52M918.85 2767.25L947.85 2796.62M918.85 2786.35L947.85 2815.72M918.85 2805.45L947.85 2834.82M918.85 2824.55L947.85 2853.92M918.85 2843.65L947.85 2873.02M918.85 2862.75L947.85 2892.12M918.85 2881.85L947.85 2911.22M918.85 2900.95L947.85 2930.32M918.85 2920.05L947.85 2949.42M918.85 2939.15L947.85 2968.52M918.85 2958.25L947.85 2987.62M918.85 2977.35L947.85 3006.72M918.85 2996.45L947.85 3025.82M918.85 3015.55L947.85 3044.92M918.85 3034.65L947.85 3064.02M918.85 3053.75L947.85 3083.12M918.85 3072.85L947.85 3102.22M918.85 3091.95L947.85 3121.32M918.85 3111.05L947.85 3140.42M918.85 3130.15L947.85 3159.52M918.85 3149.25L947.85 3178.62M918.85 3168.35L947.85 3197.72M918.85 3187.45L947.85 3216.82M918.85 3206.55L947.85 3235.92M918.85 3225.65L947.85 3255.02M918.85 3244.75L946.35 3272.6M918.85 3263.85L927.49 3272.6M1042.12 2867L1044.09 2865M1042.12 2886.1L1062.95 2865M1042.12 2905.2L1071.12 2875.83M1042.12 2924.3L1071.12 2894.93M1042.12 2943.4L1071.12 2914.03M1042.12 2962.5L1071.12 2933.13M1042.12 2981.6L1071.12 2952.23M1042.12 3000.7L1071.12 2971.33M1042.12 3019.8L1071.12 2990.43M1042.12 3038.9L1071.12 3009.53M1042.12 3058L1071.12 3028.63M1042.12 3077.1L1071.12 3047.73M1042.12 3096.2L1071.12 3066.83M1042.12 3115.3L1071.12 3085.93M1042.12 3134.4L1071.12 3105.03M1042.12 3153.5L1071.12 3124.13M1042.12 3172.6L1071.12 3143.23M1042.12 3191.7L1071.12 3162.33M1042.12 3210.8L1071.12 3181.43M1042.12 3229.9L1071.12 3200.53M1042.12 3249L1071.12 3219.63M1042.12 3268.1L1071.12 3238.73M1056.54 3272.6L1071.12 3257.83M1060.83 2865L1071.12 2875.42M1042.12 2865.15L1071.12 2894.52M1042.12 2884.25L1071.12 2913.62M1042.12 2903.35L1071.12 2932.72M1042.12 2922.45L1071.12 2951.82M1042.12 2941.55L1071.12 2970.92M1042.12 2960.65L1071.12 2990.02M1042.12 2979.75L1071.12 3009.12M1042.12 2998.85L1071.12 3028.22M1042.12 3017.95L1071.12 3047.32M1042.12 3037.05L1071.12 3066.42M1042.12 3056.15L1071.12 3085.52M1042.12 3075.25L1071.12 3104.62M1042.12 3094.35L1071.12 3123.72M1042.12 3113.45L1071.12 3142.82M1042.12 3132.55L1071.12 3161.92M1042.12 3151.65L1071.12 3181.02M1042.12 3170.75L1071.12 3200.12M1042.12 3189.85L1071.12 3219.22M1042.12 3208.95L1071.12 3238.32M1042.12 3228.05L1071.12 3257.42M1042.12 3247.15L1067.25 3272.6M1042.12 3266.25L1048.39 3272.6M1165.39 2377.8L1167.36 2375.8M1165.39 2396.9L1186.22 2375.8M1165.39 2416L1194.39 2386.63M1165.39 2435.1L1194.39 2405.73M1165.39 2454.2L1194.39 2424.83M1165.39 2473.3L1194.39 2443.93M1165.39 2492.4L1194.39 2463.03M1165.39 2511.5L1194.39 2482.13M1165.39 2530.6L1194.39 2501.23M1165.39 2549.7L1194.39 2520.33M1165.39 2568.8L1194.39 2539.43M1165.39 2587.9L1194.39 2558.53M1165.39 2607L1194.39 2577.63M1165.39 2626.1L1194.39 2596.73M1165.39 2645.2L1194.39 2615.83M1165.39 2664.3L1194.39 2634.93M1165.39 2683.4L1194.39 2654.03M1165.39 2702.5L1194.39 2673.13M1165.39 2721.6L1194.39 2692.23M1165.39 2740.7L1194.39 2711.33M1165.39 2759.8L1194.39 2730.43M1165.39 2778.9L1194.39 2749.53M1165.39 2798L1194.39 2768.63M1165.39 2817.1L1194.39 2787.73M1165.39 2836.2L1194.39 2806.83M1165.39 2855.3L1194.39 2825.93M1165.39 2874.4L1194.39 2845.03M1165.39 2893.5L1194.39 2864.13M1165.39 2912.6L1194.39 2883.23M1165.39 2931.7L1194.39 2902.33M1165.39 2950.8L1194.39 2921.43M1165.39 2969.9L1194.39 2940.53M1165.39 2989L1194.39 2959.63M1165.39 3008.1L1194.39 2978.73M1165.39 3027.2L1194.39 2997.83M1165.39 3046.3L1194.39 3016.93M1165.39 3065.4L1194.39 3036.03M1165.39 3084.5L1194.39 3055.13M1165.39 3103.6L1194.39 3074.23M1165.39 3122.7L1194.39 3093.33M1165.39 3141.8L1194.39 3112.43M1165.39 3160.9L1194.39 3131.53M1165.39 3180L1194.39 3150.63M1165.39 3199.1L1194.39 3169.73M1165.39 3218.2L1194.39 3188.83M1165.39 3237.3L1194.39 3207.93M1165.39 3256.4L1194.39 3227.03M1168.25 3272.6L1194.39 3246.13M1187.11 3272.6L1194.39 3265.23M1184.1 2375.8L1194.39 2386.22M1165.39 2375.95L1194.39 2405.32M1165.39 2395.05L1194.39 2424.42M1165.39 2414.15L1194.39 2443.52M1165.39 2433.25L1194.39 2462.62M1165.39 2452.35L1194.39 2481.72M1165.39 2471.45L1194.39 2500.82M1165.39 2490.55L1194.39 2519.92M1165.39 2509.65L1194.39 2539.02M1165.39 2528.75L1194.39 2558.12M1165.39 2547.85L1194.39 2577.22M1165.39 2566.95L1194.39 2596.32M1165.39 2586.05L1194.39 2615.42M1165.39 2605.15L1194.39 2634.52M1165.39 2624.25L1194.39 2653.62M1165.39 2643.35L1194.39 2672.72M1165.39 2662.45L1194.39 2691.82M1165.39 2681.55L1194.39 2710.92M1165.39 2700.65L1194.39 2730.02M1165.39 2719.75L1194.39 2749.12M1165.39 2738.85L1194.39 2768.22M1165.39 2757.95L1194.39 2787.32M1165.39 2777.05L1194.39 2806.42M1165.39 2796.15L1194.39 2825.52M1165.39 2815.25L1194.39 2844.62M1165.39 2834.35L1194.39 2863.72M1165.39 2853.45L1194.39 2882.82M1165.39 2872.55L1194.39 2901.92M1165.39 2891.65L1194.39 2921.02M1165.39 2910.75L1194.39 2940.12M1165.39 2929.85L1194.39 2959.22M1165.39 2948.95L1194.39 2978.32M1165.39 2968.05L1194.39 2997.42M1165.39 2987.15L1194.39 3016.52M1165.39 3006.25L1194.39 3035.62M1165.39 3025.35L1194.39 3054.72M1165.39 3044.45L1194.39 3073.82M1165.39 3063.55L1194.39 3092.92M1165.39 3082.65L1194.39 3112.02M1165.39 3101.75L1194.39 3131.12M1165.39 3120.85L1194.39 3150.22M1165.39 3139.95L1194.39 3169.32M1165.39 3159.05L1194.39 3188.42M1165.39 3178.15L1194.39 3207.52M1165.39 3197.25L1194.39 3226.62M1165.39 3216.35L1194.39 3245.72M1165.39 3235.45L1194.39 3264.82M1165.39 3254.55L1183.21 3272.6M1288.66 1954.2L1290.63 1952.2M1288.66 1973.3L1309.49 1952.2M1288.66 1992.4L1317.66 1963.03M1288.66 2011.5L1317.66 1982.13M1288.66 2030.6L1317.66 2001.23M1288.66 2049.7L1317.66 2020.33M1288.66 2068.8L1317.66 2039.43M1288.66 2087.9L1317.66 2058.53M1288.66 2107L1317.66 2077.63M1288.66 2126.1L1317.66 2096.73M1288.66 2145.2L1317.66 2115.83M1288.66 2164.3L1317.66 2134.93M1288.66 2183.4L1317.66 2154.03M1288.66 2202.5L1317.66 2173.13M1288.66 2221.6L1317.66 2192.23M1288.66 2240.7L1317.66 2211.33M1288.66 2259.8L1317.66 2230.43M1288.66 2278.9L1317.66 2249.53M1288.66 2298L1317.66 2268.63M1288.66 2317.1L1317.66 2287.73M1288.66 2336.2L1317.66 2306.83M1288.66 2355.3L1317.66 2325.93M1288.66 2374.4L1317.66 2345.03M1288.66 2393.5L1317.66 2364.13M1288.66 2412.6L1317.66 2383.23M1288.66 2431.7L1317.66 2402.33M1288.66 2450.8L1317.66 2421.43M1288.66 2469.9L1317.66 2440.53M1288.66 2489L1317.66 2459.63M1288.66 2508.1L1317.66 2478.73M1288.66 2527.2L1317.66 2497.83M1288.66 2546.3L1317.66 2516.93M1288.66 2565.4L1317.66 2536.03M1288.66 2584.5L1317.66 2555.13M1288.66 2603.6L1317.66 2574.23M1288.66 2622.7L1317.66 2593.33M1288.66 2641.8L1317.66 2612.43M1288.66 2660.9L1317.66 2631.53M1288.66 2680L1317.66 2650.63M1288.66 2699.1L1317.66 2669.73M1288.66 2718.2L1317.66 2688.83M1288.66 2737.3L1317.66 2707.93M1288.66 2756.4L1317.66 2727.03M1288.66 2775.5L1317.66 2746.13M1288.66 2794.6L1317.66 2765.23M1288.66 2813.7L1317.66 2784.33M1288.66 2832.8L1317.66 2803.43M1288.66 2851.9L1317.66 2822.53M1288.66 2871L1317.66 2841.63M1288.66 2890.1L1317.66 2860.73M1288.66 2909.2L1317.66 2879.83M1288.66 2928.3L1317.66 2898.93M1288.66 2947.4L1317.66 2918.03M1288.66 2966.5L1317.66 2937.13M1288.66 2985.6L1317.66 2956.23M1288.66 3004.7L1317.66 2975.33M1288.66 3023.8L1317.66 2994.43M1288.66 3042.9L1317.66 3013.53M1288.66 3062L1317.66 3032.63M1288.66 3081.1L1317.66 3051.73M1288.66 3100.2L1317.66 3070.83M1288.66 3119.3L1317.66 3089.93M1288.66 3138.4L1317.66 3109.03M1288.66 3157.5L1317.66 3128.13M1288.66 3176.6L1317.66 3147.23M1288.66 3195.7L1317.66 3166.33M1288.66 3214.8L1317.66 3185.43M1288.66 3233.9L1317.66 3204.53M1288.66 3253L1317.66 3223.63M1288.66 3272.1L1317.66 3242.73M1307.03 3272.6L1317.66 3261.83M1307.37 1952.2L1317.66 1962.62M1288.66 1952.35L1317.66 1981.72M1288.66 1971.45L1317.66 2000.82M1288.66 1990.55L1317.66 2019.92M1288.66 2009.65L1317.66 2039.02M1288.66 2028.75L1317.66 2058.12M1288.66 2047.85L1317.66 2077.22M1288.66 2066.95L1317.66 2096.32M1288.66 2086.05L1317.66 2115.42M1288.66 2105.15L1317.66 2134.52M1288.66 2124.25L1317.66 2153.62M1288.66 2143.35L1317.66 2172.72M1288.66 2162.45L1317.66 2191.82M1288.66 2181.55L1317.66 2210.92M1288.66 2200.65L1317.66 2230.02M1288.66 2219.75L1317.66 2249.12M1288.66 2238.85L1317.66 2268.22M1288.66 2257.95L1317.66 2287.32M1288.66 2277.05L1317.66 2306.42M1288.66 2296.15L1317.66 2325.52M1288.66 2315.25L1317.66 2344.62M1288.66 2334.35L1317.66 2363.72M1288.66 2353.45L1317.66 2382.82M1288.66 2372.55L1317.66 2401.92M1288.66 2391.65L1317.66 2421.02M1288.66 2410.75L1317.66 2440.12M1288.66 2429.85L1317.66 2459.22M1288.66 2448.95L1317.66 2478.32M1288.66 2468.05L1317.66 2497.42M1288.66 2487.15L1317.66 2516.52M1288.66 2506.25L1317.66 2535.62M1288.66 2525.35L1317.66 2554.72M1288.66 2544.45L1317.66 2573.82M1288.66 2563.55L1317.66 2592.92M1288.66 2582.65L1317.66 2612.02M1288.66 2601.75L1317.66 2631.12M1288.66 2620.85L1317.66 2650.22M1288.66 2639.95L1317.66 2669.32M1288.66 2659.05L1317.66 2688.42M1288.66 2678.15L1317.66 2707.52M1288.66 2697.25L1317.66 2726.62M1288.66 2716.35L1317.66 2745.72M1288.66 2735.45L1317.66 2764.82M1288.66 2754.55L1317.66 2783.92M1288.66 2773.65L1317.66 2803.02M1288.66 2792.75L1317.66 2822.12M1288.66 2811.85L1317.66 2841.22M1288.66 2830.95L1317.66 2860.32M1288.66 2850.05L1317.66 2879.42M1288.66 2869.15L1317.66 2898.52M1288.66 2888.25L1317.66 2917.62M1288.66 2907.35L1317.66 2936.72M1288.66 2926.45L1317.66 2955.82M1288.66 2945.55L1317.66 2974.92M1288.66 2964.65L1317.66 2994.02M1288.66 2983.75L1317.66 3013.12M1288.66 3002.85L1317.66 3032.22M1288.66 3021.95L1317.66 3051.32M1288.66 3041.05L1317.66 3070.42M1288.66 3060.15L1317.66 3089.52M1288.66 3079.25L1317.66 3108.62M1288.66 3098.35L1317.66 3127.72M1288.66 3117.45L1317.66 3146.82M1288.66 3136.55L1317.66 3165.92M1288.66 3155.65L1317.66 3185.02M1288.66 3174.75L1317.66 3204.12M1288.66 3193.85L1317.66 3223.22M1288.66 3212.95L1317.66 3242.32M1288.66 3232.05L1317.66 3261.42M1288.66 3251.15L1309.84 3272.6M1288.66 3270.25L1290.98 3272.6M1411.93 2573.6L1413.9 2571.6M1411.93 2592.7L1432.76 2571.6M1411.93 2611.8L1440.93 2582.43M1411.93 2630.9L1440.93 2601.53M1411.93 2650L1440.93 2620.63M1411.93 2669.1L1440.93 2639.73M1411.93 2688.2L1440.93 2658.83M1411.93 2707.3L1440.93 2677.93M1411.93 2726.4L1440.93 2697.03M1411.93 2745.5L1440.93 2716.13M1411.93 2764.6L1440.93 2735.23M1411.93 2783.7L1440.93 2754.33M1411.93 2802.8L1440.93 2773.43M1411.93 2821.9L1440.93 2792.53M1411.93 2841L1440.93 2811.63M1411.93 2860.1L1440.93 2830.73M1411.93 2879.2L1440.93 2849.83M1411.93 2898.3L1440.93 2868.93M1411.93 2917.4L1440.93 2888.03M1411.93 2936.5L1440.93 2907.13M1411.93 2955.6L1440.93 2926.23M1411.93 2974.7L1440.93 2945.33M1411.93 2993.8L1440.93 2964.43M1411.93 3012.9L1440.93 2983.53M1411.93 3032L1440.93 3002.63M1411.93 3051.1L1440.93 3021.73M1411.93 3070.2L1440.93 3040.83M1411.93 3089.3L1440.93 3059.93M1411.93 3108.4L1440.93 3079.03M1411.93 3127.5L1440.93 3098.13M1411.93 3146.6L1440.93 3117.23M1411.93 3165.7L1440.93 3136.33M1411.93 3184.8L1440.93 3155.43M1411.93 3203.9L1440.93 3174.53M1411.93 3223L1440.93 3193.63M1411.93 3242.1L1440.93 3212.73M1411.93 3261.2L1440.93 3231.83M1419.53 3272.6L1440.93 3250.93M1438.39 3272.6L1440.93 3270.03M1430.64 2571.6L1440.93 2582.02M1411.93 2571.75L1440.93 2601.12M1411.93 2590.85L1440.93 2620.22M1411.93 2609.95L1440.93 2639.32M1411.93 2629.05L1440.93 2658.42M1411.93 2648.15L1440.93 2677.52M1411.93 2667.25L1440.93 2696.62M1411.93 2686.35L1440.93 2715.72M1411.93 2705.45L1440.93 2734.82M1411.93 2724.55L1440.93 2753.92M1411.93 2743.65L1440.93 2773.02M1411.93 2762.75L1440.93 2792.12M1411.93 2781.85L1440.93 2811.22M1411.93 2800.95L1440.93 2830.32M1411.93 2820.05L1440.93 2849.42M1411.93 2839.15L1440.93 2868.52M1411.93 2858.25L1440.93 2887.62M1411.93 2877.35L1440.93 2906.72M1411.93 2896.45L1440.93 2925.82M1411.93 2915.55L1440.93 2944.92M1411.93 2934.65L1440.93 2964.02M1411.93 2953.75L1440.93 2983.12M1411.93 2972.85L1440.93 3002.22M1411.93 2991.95L1440.93 3021.32M1411.93 3011.05L1440.93 3040.42M1411.93 3030.15L1440.93 3059.52M1411.93 3049.25L1440.93 3078.62M1411.93 3068.35L1440.93 3097.72M1411.93 3087.45L1440.93 3116.82M1411.93 3106.55L1440.93 3135.92M1411.93 3125.65L1440.93 3155.02M1411.93 3144.75L1440.93 3174.12M1411.93 3163.85L1440.93 3193.22M1411.93 3182.95L1440.93 3212.32M1411.93 3202.05L1440.93 3231.42M1411.93 3221.15L1440.93 3250.52M1411.93 3240.25L1440.93 3269.62M1411.93 3259.35L1425.01 3272.6M1535.2 2705L1537.17 2703M1535.2 2724.1L1556.03 2703M1535.2 2743.2L1564.2 2713.83M1535.2 2762.3L1564.2 2732.93M1535.2 2781.4L1564.2 2752.03M1535.2 2800.5L1564.2 2771.13M1535.2 2819.6L1564.2 2790.23M1535.2 2838.7L1564.2 2809.33M1535.2 2857.8L1564.2 2828.43M1535.2 2876.9L1564.2 2847.53M1535.2 2896L1564.2 2866.63M1535.2 2915.1L1564.2 2885.73M1535.2 2934.2L1564.2 2904.83M1535.2 2953.3L1564.2 2923.93M1535.2 2972.4L1564.2 2943.03M1535.2 2991.5L1564.2 2962.13M1535.2 3010.6L1564.2 2981.23M1535.2 3029.7L1564.2 3000.33M1535.2 3048.8L1564.2 3019.43M1535.2 3067.9L1564.2 3038.53M1535.2 3087L1564.2 3057.63M1535.2 3106.1L1564.2 3076.73M1535.2 3125.2L1564.2 3095.83M1535.2 3144.3L1564.2 3114.93M1535.2 3163.4L1564.2 3134.03M1535.2 3182.5L1564.2 3153.13M1535.2 3201.6L1564.2 3172.23M1535.2 3220.7L1564.2 3191.33M1535.2 3239.8L1564.2 3210.43M1535.2 3258.9L1564.2 3229.53M1540.53 3272.6L1564.2 3248.63M1559.39 3272.6L1564.2 3267.73M1553.91 2703L1564.2 2713.42M1535.2 2703.15L1564.2 2732.52M1535.2 2722.25L1564.2 2751.62M1535.2 2741.35L1564.2 2770.72M1535.2 2760.45L1564.2 2789.82M1535.2 2779.55L1564.2 2808.92M1535.2 2798.65L1564.2 2828.02M1535.2 2817.75L1564.2 2847.12M1535.2 2836.85L1564.2 2866.22M1535.2 2855.95L1564.2 2885.32M1535.2 2875.05L1564.2 2904.42M1535.2 2894.15L1564.2 2923.52M1535.2 2913.25L1564.2 2942.62M1535.2 2932.35L1564.2 2961.72M1535.2 2951.45L1564.2 2980.82M1535.2 2970.55L1564.2 2999.92M1535.2 2989.65L1564.2 3019.02M1535.2 3008.75L1564.2 3038.12M1535.2 3027.85L1564.2 3057.22M1535.2 3046.95L1564.2 3076.32M1535.2 3066.05L1564.2 3095.42M1535.2 3085.15L1564.2 3114.52M1535.2 3104.25L1564.2 3133.62M1535.2 3123.35L1564.2 3152.72M1535.2 3142.45L1564.2 3171.82M1535.2 3161.55L1564.2 3190.92M1535.2 3180.65L1564.2 3210.02M1535.2 3199.75L1564.2 3229.12M1535.2 3218.85L1564.2 3248.22M1535.2 3237.95L1564.2 3267.32M1535.2 3257.05L1550.55 3272.6M1658.47 1985.5L1660.44 1983.5M1658.47 2004.6L1679.3 1983.5M1658.47 2023.7L1687.47 1994.33M1658.47 2042.8L1687.47 2013.43M1658.47 2061.9L1687.47 2032.53M1658.47 2081L1687.47 2051.63M1658.47 2100.1L1687.47 2070.73M1658.47 2119.2L1687.47 2089.83M1658.47 2138.3L1687.47 2108.93M1658.47 2157.4L1687.47 2128.03M1658.47 2176.5L1687.47 2147.13M1658.47 2195.6L1687.47 2166.23M1658.47 2214.7L1687.47 2185.33M1658.47 2233.8L1687.47 2204.43M1658.47 2252.9L1687.47 2223.53M1658.47 2272L1687.47 2242.63M1658.47 2291.1L1687.47 2261.73M1658.47 2310.2L1687.47 2280.83M1658.47 2329.3L1687.47 2299.93M1658.47 2348.4L1687.47 2319.03M1658.47 2367.5L1687.47 2338.13M1658.47 2386.6L1687.47 2357.23M1658.47 2405.7L1687.47 2376.33M1658.47 2424.8L1687.47 2395.43M1658.47 2443.9L1687.47 2414.53M1658.47 2463L1687.47 2433.63M1658.47 2482.1L1687.47 2452.73M1658.47 2501.2L1687.47 2471.83M1658.47 2520.3L1687.47 2490.93M1658.47 2539.4L1687.47 2510.03M1658.47 2558.5L1687.47 2529.13M1658.47 2577.6L1687.47 2548.23M1658.47 2596.7L1687.47 2567.33M1658.47 2615.8L1687.47 2586.43M1658.47 2634.9L1687.47 2605.53M1658.47 2654L1687.47 2624.63M1658.47 2673.1L1687.47 2643.73M1658.47 2692.2L1687.47 2662.83M1658.47 2711.3L1687.47 2681.93M1658.47 2730.4L1687.47 2701.03M1658.47 2749.5L1687.47 2720.13M1658.47 2768.6L1687.47 2739.23M1658.47 2787.7L1687.47 2758.33M1658.47 2806.8L1687.47 2777.43M1658.47 2825.9L1687.47 2796.53M1658.47 2845L1687.47 2815.63M1658.47 2864.1L1687.47 2834.73M1658.47 2883.2L1687.47 2853.83M1658.47 2902.3L1687.47 2872.93M1658.47 2921.4L1687.47 2892.03M1658.47 2940.5L1687.47 2911.13M1658.47 2959.6L1687.47 2930.23M1658.47 2978.7L1687.47 2949.33M1658.47 2997.8L1687.47 2968.43M1658.47 3016.9L1687.47 2987.53M1658.47 3036L1687.47 3006.63M1658.47 3055.1L1687.47 3025.73M1658.47 3074.2L1687.47 3044.83M1658.47 3093.3L1687.47 3063.93M1658.47 3112.4L1687.47 3083.03M1658.47 3131.5L1687.47 3102.13M1658.47 3150.6L1687.47 3121.23M1658.47 3169.7L1687.47 3140.33M1658.47 3188.8L1687.47 3159.43M1658.47 3207.9L1687.47 3178.53M1658.47 3227L1687.47 3197.63M1658.47 3246.1L1687.47 3216.73M1658.47 3265.2L1687.47 3235.83M1670.02 3272.6L1687.47 3254.93M1677.18 1983.5L1687.47 1993.92M1658.47 1983.65L1687.47 2013.02M1658.47 2002.75L1687.47 2032.12M1658.47 2021.85L1687.47 2051.22M1658.47 2040.95L1687.47 2070.32M1658.47 2060.05L1687.47 2089.42M1658.47 2079.15L1687.47 2108.52M1658.47 2098.25L1687.47 2127.62M1658.47 2117.35L1687.47 2146.72M1658.47 2136.45L1687.47 2165.82M1658.47 2155.55L1687.47 2184.92M1658.47 2174.65L1687.47 2204.02M1658.47 2193.75L1687.47 2223.12M1658.47 2212.85L1687.47 2242.22M1658.47 2231.95L1687.47 2261.32M1658.47 2251.05L1687.47 2280.42M1658.47 2270.15L1687.47 2299.52M1658.47 2289.25L1687.47 2318.62M1658.47 2308.35L1687.47 2337.72M1658.47 2327.45L1687.47 2356.82M1658.47 2346.55L1687.47 2375.92M1658.47 2365.65L1687.47 2395.02M1658.47 2384.75L1687.47 2414.12M1658.47 2403.85L1687.47 2433.22M1658.47 2422.95L1687.47 2452.32M1658.47 2442.05L1687.47 2471.42M1658.47 2461.15L1687.47 2490.52M1658.47 2480.25L1687.47 2509.62M1658.47 2499.35L1687.47 2528.72M1658.47 2518.45L1687.47 2547.82M1658.47 2537.55L1687.47 2566.92M1658.47 2556.65L1687.47 2586.02M1658.47 2575.75L1687.47 2605.12M1658.47 2594.85L1687.47 2624.22M1658.47 2613.95L1687.47 2643.32M1658.47 2633.05L1687.47 2662.42M1658.47 2652.15L1687.47 2681.52M1658.47 2671.25L1687.47 2700.62M1658.47 2690.35L1687.47 2719.72M1658.47 2709.45L1687.47 2738.82M1658.47 2728.55L1687.47 2757.92M1658.47 2747.65L1687.47 2777.02M1658.47 2766.75L1687.47 2796.12M1658.47 2785.85L1687.47 2815.22M1658.47 2804.95L1687.47 2834.32M1658.47 2824.05L1687.47 2853.42M1658.47 2843.15L1687.47 2872.52M1658.47 2862.25L1687.47 2891.62M1658.47 2881.35L1687.47 2910.72M1658.47 2900.45L1687.47 2929.82M1658.47 2919.55L1687.47 2948.92M1658.47 2938.65L1687.47 2968.02M1658.47 2957.75L1687.47 2987.12M1658.47 2976.85L1687.47 3006.22M1658.47 2995.95L1687.47 3025.32M1658.47 3015.05L1687.47 3044.42M1658.47 3034.15L1687.47 3063.52M1658.47 3053.25L1687.47 3082.62M1658.47 3072.35L1687.47 3101.72M1658.47 3091.45L1687.47 3120.82M1658.47 3110.55L1687.47 3139.92M1658.47 3129.65L1687.47 3159.02M1658.47 3148.75L1687.47 3178.12M1658.47 3167.85L1687.47 3197.22M1658.47 3186.95L1687.47 3216.32M1658.47 3206.05L1687.47 3235.42M1658.47 3225.15L1687.47 3254.52M1658.47 3244.25L1686.46 3272.6M1658.47 3263.35L1667.6 3272.6M1781.74 1985.5L1783.71 1983.5M1781.74 2004.6L1802.57 1983.5M1781.74 2023.7L1810.74 1994.33M1781.74 2042.8L1810.74 2013.43M1781.74 2061.9L1810.74 2032.53M1781.74 2081L1810.74 2051.63M1781.74 2100.1L1810.74 2070.73M1781.74 2119.2L1810.74 2089.83M1781.74 2138.3L1810.74 2108.93M1781.74 2157.4L1810.74 2128.03M1781.74 2176.5L1810.74 2147.13M1781.74 2195.6L1810.74 2166.23M1781.74 2214.7L1810.74 2185.33M1781.74 2233.8L1810.74 2204.43M1781.74 2252.9L1810.74 2223.53M1781.74 2272L1810.74 2242.63M1781.74 2291.1L1810.74 2261.73M1781.74 2310.2L1810.74 2280.83M1781.74 2329.3L1810.74 2299.93M1781.74 2348.4L1810.74 2319.03M1781.74 2367.5L1810.74 2338.13M1781.74 2386.6L1810.74 2357.23M1781.74 2405.7L1810.74 2376.33M1781.74 2424.8L1810.74 2395.43M1781.74 2443.9L1810.74 2414.53M1781.74 2463L1810.74 2433.63M1781.74 2482.1L1810.74 2452.73M1781.74 2501.2L1810.74 2471.83M1781.74 2520.3L1810.74 2490.93M1781.74 2539.4L1810.74 2510.03M1781.74 2558.5L1810.74 2529.13M1781.74 2577.6L1810.74 2548.23M1781.74 2596.7L1810.74 2567.33M1781.74 2615.8L1810.74 2586.43M1781.74 2634.9L1810.74 2605.53M1781.74 2654L1810.74 2624.63M1781.74 2673.1L1810.74 2643.73M1781.74 2692.2L1810.74 2662.83M1781.74 2711.3L1810.74 2681.93M1781.74 2730.4L1810.74 2701.03M1781.74 2749.5L1810.74 2720.13M1781.74 2768.6L1810.74 2739.23M1781.74 2787.7L1810.74 2758.33M1781.74 2806.8L1810.74 2777.43M1781.74 2825.9L1810.74 2796.53M1781.74 2845L1810.74 2815.63M1781.74 2864.1L1810.74 2834.73M1781.74 2883.2L1810.74 2853.83M1781.74 2902.3L1810.74 2872.93M1781.74 2921.4L1810.74 2892.03M1781.74 2940.5L1810.74 2911.13M1781.74 2959.6L1810.74 2930.23M1781.74 2978.7L1810.74 2949.33M1781.74 2997.8L1810.74 2968.43M1781.74 3016.9L1810.74 2987.53M1781.74 3036L1810.74 3006.63M1781.74 3055.1L1810.74 3025.73M1781.74 3074.2L1810.74 3044.83M1781.74 3093.3L1810.74 3063.93M1781.74 3112.4L1810.74 3083.03M1781.74 3131.5L1810.74 3102.13M1781.74 3150.6L1810.74 3121.23M1781.74 3169.7L1810.74 3140.33M1781.74 3188.8L1810.74 3159.43M1781.74 3207.9L1810.74 3178.53M1781.74 3227L1810.74 3197.63M1781.74 3246.1L1810.74 3216.73M1781.74 3265.2L1810.74 3235.83M1793.29 3272.6L1810.74 3254.93M1800.45 1983.5L1810.74 1993.92M1781.74 1983.65L1810.74 2013.02M1781.74 2002.75L1810.74 2032.12M1781.74 2021.85L1810.74 2051.22M1781.74 2040.95L1810.74 2070.32M1781.74 2060.05L1810.74 2089.42M1781.74 2079.15L1810.74 2108.52M1781.74 2098.25L1810.74 2127.62M1781.74 2117.35L1810.74 2146.72M1781.74 2136.45L1810.74 2165.82M1781.74 2155.55L1810.74 2184.92M1781.74 2174.65L1810.74 2204.02M1781.74 2193.75L1810.74 2223.12M1781.74 2212.85L1810.74 2242.22M1781.74 2231.95L1810.74 2261.32M1781.74 2251.05L1810.74 2280.42M1781.74 2270.15L1810.74 2299.52M1781.74 2289.25L1810.74 2318.62M1781.74 2308.35L1810.74 2337.72M1781.74 2327.45L1810.74 2356.82M1781.74 2346.55L1810.74 2375.92M1781.74 2365.65L1810.74 2395.02M1781.74 2384.75L1810.74 2414.12M1781.74 2403.85L1810.74 2433.22M1781.74 2422.95L1810.74 2452.32M1781.74 2442.05L1810.74 2471.42M1781.74 2461.15L1810.74 2490.52M1781.74 2480.25L1810.74 2509.62M1781.74 2499.35L1810.74 2528.72M1781.74 2518.45L1810.74 2547.82M1781.74 2537.55L1810.74 2566.92M1781.74 2556.65L1810.74 2586.02M1781.74 2575.75L1810.74 2605.12M1781.74 2594.85L1810.74 2624.22M1781.74 2613.95L1810.74 2643.32M1781.74 2633.05L1810.74 2662.42M1781.74 2652.15L1810.74 2681.52M1781.74 2671.25L1810.74 2700.62M1781.74 2690.35L1810.74 2719.72M1781.74 2709.45L1810.74 2738.82M1781.74 2728.55L1810.74 2757.92M1781.74 2747.65L1810.74 2777.02M1781.74 2766.75L1810.74 2796.12M1781.74 2785.85L1810.74 2815.22M1781.74 2804.95L1810.74 2834.32M1781.74 2824.05L1810.74 2853.42M1781.74 2843.15L1810.74 2872.52M1781.74 2862.25L1810.74 2891.62M1781.74 2881.35L1810.74 2910.72M1781.74 2900.45L1810.74 2929.82M1781.74 2919.55L1810.74 2948.92M1781.74 2938.65L1810.74 2968.02M1781.74 2957.75L1810.74 2987.12M1781.74 2976.85L1810.74 3006.22M1781.74 2995.95L1810.74 3025.32M1781.74 3015.05L1810.74 3044.42M1781.74 3034.15L1810.74 3063.52M1781.74 3053.25L1810.74 3082.62M1781.74 3072.35L1810.74 3101.72M1781.74 3091.45L1810.74 3120.82M1781.74 3110.55L1810.74 3139.92M1781.74 3129.65L1810.74 3159.02M1781.74 3148.75L1810.74 3178.12M1781.74 3167.85L1810.74 3197.22M1781.74 3186.95L1810.74 3216.32M1781.74 3206.05L1810.74 3235.42M1781.74 3225.15L1810.74 3254.52M1781.74 3244.25L1809.73 3272.6M1781.74 3263.35L1790.87 3272.6M1905.01 2841.1L1906.98 2839.1M1905.01 2860.2L1925.84 2839.1M1905.01 2879.3L1934.01 2849.93M1905.01 2898.4L1934.01 2869.03M1905.01 2917.5L1934.01 2888.13M1905.01 2936.6L1934.01 2907.23M1905.01 2955.7L1934.01 2926.33M1905.01 2974.8L1934.01 2945.43M1905.01 2993.9L1934.01 2964.53M1905.01 3013L1934.01 2983.63M1905.01 3032.1L1934.01 3002.73M1905.01 3051.2L1934.01 3021.83M1905.01 3070.3L1934.01 3040.93M1905.01 3089.4L1934.01 3060.03M1905.01 3108.5L1934.01 3079.13M1905.01 3127.6L1934.01 3098.23M1905.01 3146.7L1934.01 3117.33M1905.01 3165.8L1934.01 3136.43M1905.01 3184.9L1934.01 3155.53M1905.01 3204L1934.01 3174.63M1905.01 3223.1L1934.01 3193.73M1905.01 3242.2L1934.01 3212.83M1905.01 3261.3L1934.01 3231.93M1912.71 3272.6L1934.01 3251.03M1931.57 3272.6L1934.01 3270.13M1923.72 2839.1L1934.01 2849.52M1905.01 2839.25L1934.01 2868.62M1905.01 2858.35L1934.01 2887.72M1905.01 2877.45L1934.01 2906.82M1905.01 2896.55L1934.01 2925.92M1905.01 2915.65L1934.01 2945.02M1905.01 2934.75L1934.01 2964.12M1905.01 2953.85L1934.01 2983.22M1905.01 2972.95L1934.01 3002.32M1905.01 2992.05L1934.01 3021.42M1905.01 3011.15L1934.01 3040.52M1905.01 3030.25L1934.01 3059.62M1905.01 3049.35L1934.01 3078.72M1905.01 3068.45L1934.01 3097.82M1905.01 3087.55L1934.01 3116.92M1905.01 3106.65L1934.01 3136.02M1905.01 3125.75L1934.01 3155.12M1905.01 3144.85L1934.01 3174.22M1905.01 3163.95L1934.01 3193.32M1905.01 3183.05L1934.01 3212.42M1905.01 3202.15L1934.01 3231.52M1905.01 3221.25L1934.01 3250.62M1905.01 3240.35L1934.01 3269.72M1905.01 3259.45L1917.99 3272.6M2028.28 2563.6L2030.25 2561.6M2028.28 2582.7L2049.11 2561.6M2028.28 2601.8L2057.28 2572.43M2028.28 2620.9L2057.28 2591.53M2028.28 2640L2057.28 2610.63M2028.28 2659.1L2057.28 2629.73M2028.28 2678.2L2057.28 2648.83M2028.28 2697.3L2057.28 2667.93M2028.28 2716.4L2057.28 2687.03M2028.28 2735.5L2057.28 2706.13M2028.28 2754.6L2057.28 2725.23M2028.28 2773.7L2057.28 2744.33M2028.28 2792.8L2057.28 2763.43M2028.28 2811.9L2057.28 2782.53M2028.28 2831L2057.28 2801.63M2028.28 2850.1L2057.28 2820.73M2028.28 2869.2L2057.28 2839.83M2028.28 2888.3L2057.28 2858.93M2028.28 2907.4L2057.28 2878.03M2028.28 2926.5L2057.28 2897.13M2028.28 2945.6L2057.28 2916.23M2028.28 2964.7L2057.28 2935.33M2028.28 2983.8L2057.28 2954.43M2028.28 3002.9L2057.28 2973.53M2028.28 3022L2057.28 2992.63M2028.28 3041.1L2057.28 3011.73M2028.28 3060.2L2057.28 3030.83M2028.28 3079.3L2057.28 3049.93M2028.28 3098.4L2057.28 3069.03M2028.28 3117.5L2057.28 3088.13M2028.28 3136.6L2057.28 3107.23M2028.28 3155.7L2057.28 3126.33M2028.28 3174.8L2057.28 3145.43M2028.28 3193.9L2057.28 3164.53M2028.28 3213L2057.28 3183.63M2028.28 3232.1L2057.28 3202.73M2028.28 3251.2L2057.28 3221.83M2028.28 3270.3L2057.28 3240.93M2044.87 3272.6L2057.28 3260.03M2046.99 2561.6L2057.28 2572.02M2028.28 2561.75L2057.28 2591.12M2028.28 2580.85L2057.28 2610.22M2028.28 2599.95L2057.28 2629.32M2028.28 2619.05L2057.28 2648.42M2028.28 2638.15L2057.28 2667.52M2028.28 2657.25L2057.28 2686.62M2028.28 2676.35L2057.28 2705.72M2028.28 2695.45L2057.28 2724.82M2028.28 2714.55L2057.28 2743.92M2028.28 2733.65L2057.28 2763.02M2028.28 2752.75L2057.28 2782.12M2028.28 2771.85L2057.28 2801.22M2028.28 2790.95L2057.28 2820.32M2028.28 2810.05L2057.28 2839.42M2028.28 2829.15L2057.28 2858.52M2028.28 2848.25L2057.28 2877.62M2028.28 2867.35L2057.28 2896.72M2028.28 2886.45L2057.28 2915.82M2028.28 2905.55L2057.28 2934.92M2028.28 2924.65L2057.28 2954.02M2028.28 2943.75L2057.28 2973.12M2028.28 2962.85L2057.28 2992.22M2028.28 2981.95L2057.28 3011.32M2028.28 3001.05L2057.28 3030.42M2028.28 3020.15L2057.28 3049.52M2028.28 3039.25L2057.28 3068.62M2028.28 3058.35L2057.28 3087.72M2028.28 3077.45L2057.28 3106.82M2028.28 3096.55L2057.28 3125.92M2028.28 3115.65L2057.28 3145.02M2028.28 3134.75L2057.28 3164.12M2028.28 3153.85L2057.28 3183.22M2028.28 3172.95L2057.28 3202.32M2028.28 3192.05L2057.28 3221.42M2028.28 3211.15L2057.28 3240.52M2028.28 3230.25L2057.28 3259.62M2028.28 3249.35L2051.24 3272.6M2028.28 3268.45L2032.38 3272.6M2151.55 2864.6L2153.52 2862.6M2151.55 2883.7L2172.38 2862.6M2151.55 2902.8L2180.55 2873.43M2151.55 2921.9L2180.55 2892.53M2151.55 2941L2180.55 2911.63M2151.55 2960.1L2180.55 2930.73M2151.55 2979.2L2180.55 2949.83M2151.55 2998.3L2180.55 2968.93M2151.55 3017.4L2180.55 2988.03M2151.55 3036.5L2180.55 3007.13M2151.55 3055.6L2180.55 3026.23M2151.55 3074.7L2180.55 3045.33M2151.55 3093.8L2180.55 3064.43M2151.55 3112.9L2180.55 3083.53M2151.55 3132L2180.55 3102.63M2151.55 3151.1L2180.55 3121.73M2151.55 3170.2L2180.55 3140.83M2151.55 3189.3L2180.55 3159.93M2151.55 3208.4L2180.55 3179.03M2151.55 3227.5L2180.55 3198.13M2151.55 3246.6L2180.55 3217.23M2151.55 3265.7L2180.55 3236.33M2163.6 3272.6L2180.55 3255.43M2170.26 2862.6L2180.55 2873.02M2151.55 2862.75L2180.55 2892.12M2151.55 2881.85L2180.55 2911.22M2151.55 2900.95L2180.55 2930.32M2151.55 2920.05L2180.55 2949.42M2151.55 2939.15L2180.55 2968.52M2151.55 2958.25L2180.55 2987.62M2151.55 2977.35L2180.55 3006.72M2151.55 2996.45L2180.55 3025.82M2151.55 3015.55L2180.55 3044.92M2151.55 3034.65L2180.55 3064.02M2151.55 3053.75L2180.55 3083.12M2151.55 3072.85L2180.55 3102.22M2151.55 3091.95L2180.55 3121.32M2151.55 3111.05L2180.55 3140.42M2151.55 3130.15L2180.55 3159.52M2151.55 3149.25L2180.55 3178.62M2151.55 3168.35L2180.55 3197.72M2151.55 3187.45L2180.55 3216.82M2151.55 3206.55L2180.55 3235.92M2151.55 3225.65L2180.55 3255.02M2151.55 3244.75L2179.05 3272.6M2151.55 3263.85L2160.19 3272.6" stroke-width="2.75"/>
<path d="M242 3272.6V3223.9H270.2V3272.6M272.3 3272.6V2996.2H300.7V3272.6M302.5 3272.6V2604.6H331.5V3272.6M365.27 3272.6V3239.8H393.47V3272.6M395.57 3272.6V3191.2H423.97V3272.6M425.77 3272.6V2930.9H454.77V3272.6M488.54 3272.6V3191.2H516.74V3272.6M518.84 3272.6V3093.7H547.24V3272.6M549.04 3272.6V2832.7H578.04V3272.6M611.81 3272.6V3246.6H640.01V3272.6M642.11 3272.6V3159.8H670.51V3272.6M672.31 3272.6V2604.6H701.31V3272.6M735.08 3272.6V3220.7H763.28V3272.6M765.38 3272.6V2985.8H793.78V3272.6M795.58 3272.6V2692.2H824.58V3272.6M858.35 3272.6V3243.4H886.55V3272.6M888.65 3272.6V3135.5H917.05V3272.6M918.85 3272.6V2767.1H947.85V3272.6M981.62 3272.6V3251H1009.82V3272.6M1011.92 3272.6V3093.7H1040.32V3272.6M1042.12 3272.6V2865H1071.12V3272.6M1104.89 3272.6V3213.5H1133.09V3272.6M1135.19 3272.6V2930.9H1163.59V3272.6M1165.39 3272.6V2375.8H1194.39V3272.6M1228.16 3272.6V3129.9H1256.36V3272.6M1258.46 3272.6V2930.9H1286.86V3272.6M1288.66 3272.6V1952.2H1317.66V3272.6M1351.43 3272.6V3223.9H1379.63V3272.6M1381.73 3272.6V2996.2H1410.13V3272.6M1411.93 3272.6V2571.6H1440.93V3272.6M1474.7 3272.6V3226.7H1502.9V3272.6M1505 3272.6V2962.7H1533.4V3272.6M1535.2 3272.6V2703H1564.2V3272.6M1597.97 3272.6V3191.2H1626.17V3272.6M1628.27 3272.6V2865H1656.67V3272.6M1658.47 3272.6V1983.5H1687.47V3272.6M1721.24 3272.6V3191.2H1749.44V3272.6M1751.54 3272.6V2898H1779.94V3272.6M1781.74 3272.6V1983.5H1810.74V3272.6M1844.51 3272.6V3233.5H1872.71V3272.6M1874.81 3272.6V3200.4H1903.21V3272.6M1905.01 3272.6V2839.1H1934.01V3272.6M1967.78 3272.6V3246.6H1995.98V3272.6M1998.08 3272.6V3161.8H2026.48V3272.6M2028.28 3272.6V2561.6H2057.28V3272.6M2091.05 3272.6V3246.6H2119.25V3272.6M2121.35 3272.6V3155.8H2149.75V3272.6M2151.55 3272.6V2862.6H2180.55V3272.6" stroke-width="4" stroke-linejoin="round"/>
</g>
<g stroke="#000" stroke-linecap="round" fill="none">
<path d="M212.9 1788.1 V3272.6" stroke-width="6"/>
<path d="M212.9 3272.6 H2209" stroke-width="5.6"/>
<path d="M212.9 3256.1 H183.6M212.9 2766.8 H183.6M212.9 2277.5 H183.6M212.9 1788.2 H183.6M212.9 3011.45 H199M212.9 2522.15 H199M212.9 2032.85 H199M287 3272.6 V3287.9M410.27 3272.6 V3303M533.54 3272.6 V3287.9M656.81 3272.6 V3303M780.08 3272.6 V3287.9M903.35 3272.6 V3303M1026.62 3272.6 V3287.9M1149.89 3272.6 V3303M1273.16 3272.6 V3287.9M1396.43 3272.6 V3303M1519.7 3272.6 V3287.9M1642.97 3272.6 V3303M1766.24 3272.6 V3287.9M1889.51 3272.6 V3303M2012.78 3272.6 V3287.9M2136.05 3272.6 V3303" stroke-width="6"/>
</g>
<rect x="304.1" y="1792.5" width="425.2" height="270.9" fill="#fff" stroke="#000" stroke-width="2.4"/>
<g fill="none" stroke="#000">
<path d="M317.65 1811.2L318.94 1809.9M317.65 1853.8L361.08 1809.9M343.37 1870.4L403.22 1809.9M385.51 1870.4L445.36 1809.9M427.65 1870.4L474.25 1823.29M469.79 1870.4L474.25 1865.89" stroke-width="2.9"/>
<rect x="317.65" y="1809.9" width="156.6" height="60.5" stroke-width="4" stroke-linejoin="round"/>
<path d="M468.38 1899.4L474.25 1905.34M449.52 1899.4L474.25 1924.44M430.66 1899.4L474.25 1943.54M411.8 1899.4L471.54 1959.9M392.94 1899.4L452.68 1959.9M374.08 1899.4L433.82 1959.9M355.22 1899.4L414.96 1959.9M336.36 1899.4L396.1 1959.9M317.65 1899.55L377.24 1959.9M317.65 1918.65L358.38 1959.9M317.65 1937.75L339.52 1959.9M317.65 1956.85L320.66 1959.9" stroke-width="2.9"/>
<rect x="317.65" y="1899.4" width="156.6" height="60.5" stroke-width="4" stroke-linejoin="round"/>
<path d="M317.65 1990.9L319.62 1988.9M317.65 2010L338.48 1988.9M317.65 2029.1L357.34 1988.9M317.65 2048.2L376.2 1988.9M335.33 2049.4L395.06 1988.9M354.19 2049.4L413.92 1988.9M373.05 2049.4L432.78 1988.9M391.91 2049.4L451.64 1988.9M410.77 2049.4L470.5 1988.9M429.63 2049.4L474.25 2004.21M448.49 2049.4L474.25 2023.31M467.35 2049.4L474.25 2042.41M468.38 1988.9L474.25 1994.84M449.52 1988.9L474.25 2013.94M430.66 1988.9L474.25 2033.04M411.8 1988.9L471.54 2049.4M392.94 1988.9L452.68 2049.4M374.08 1988.9L433.82 2049.4M355.22 1988.9L414.96 2049.4M336.36 1988.9L396.1 2049.4M317.65 1989.05L377.24 2049.4M317.65 2008.15L358.38 2049.4M317.65 2027.25L339.52 2049.4M317.65 2046.35L320.66 2049.4" stroke-width="2.75"/>
<rect x="317.65" y="1988.9" width="156.6" height="60.5" stroke-width="4" stroke-linejoin="round"/>
</g>
<text x="0" y="0" font-size="54.5" text-anchor="end" transform="translate(269.2 1387.2) scale(1.0000 1.0420)">0</text>
<text x="0" y="0" font-size="54.5" text-anchor="end" transform="translate(269.2 1260.39) scale(1.0000 1.0420)">10</text>
<text x="0" y="0" font-size="54.5" text-anchor="end" transform="translate(269.2 1133.58) scale(1.0000 1.0420)">20</text>
<text x="0" y="0" font-size="54.5" text-anchor="end" transform="translate(269.2 1006.77) scale(1.0000 1.0420)">30</text>
<text x="0" y="0" font-size="54.5" text-anchor="end" transform="translate(269.2 879.96) scale(1.0000 1.0420)">40</text>
<text x="0" y="0" font-size="54.5" text-anchor="end" transform="translate(269.2 753.15) scale(1.0000 1.0420)">50</text>
<text x="0" y="0" font-size="54.5" text-anchor="end" transform="translate(269.2 626.34) scale(1.0000 1.0420)">60</text>
<text x="0" y="0" font-size="54.5" text-anchor="end" transform="translate(269.2 499.53) scale(1.0000 1.0420)">70</text>
<text x="0" y="0" font-size="54.5" text-anchor="end" transform="translate(269.2 372.72) scale(1.0000 1.0420)">80</text>
<text x="0" y="0" font-size="54.5" text-anchor="end" transform="translate(269.2 245.91) scale(1.0000 1.0420)">90</text>
<text x="0" y="0" font-size="54.5" text-anchor="end" transform="translate(269.2 119.1) scale(1.0000 1.0420)">100</text>
<text x="0" y="0" font-size="66.5" text-anchor="middle" transform="translate(377.9 1478) scale(1.0000 1.0300)">1</text>
<text x="0" y="0" font-size="66.5" text-anchor="middle" transform="translate(484.1 1478) scale(1.0000 1.0300)">2</text>
<text x="0" y="0" font-size="66.5" text-anchor="middle" transform="translate(594.6 1478) scale(1.0000 1.0300)">3</text>
<text x="0" y="0" font-size="66.5" text-anchor="middle" transform="translate(702.1 1478) scale(1.0000 1.0300)">4</text>
<text x="0" y="0" font-size="66.5" text-anchor="middle" transform="translate(830.3 1478) scale(1.0000 1.0300)">5</text>
<text x="0" y="0" font-size="66.5" text-anchor="middle" transform="translate(939.8 1478) scale(1.0000 1.0300)">6</text>
<text x="0" y="0" font-size="66.5" text-anchor="middle" transform="translate(1048.5 1478) scale(1.0000 1.0300)">7</text>
<text x="0" y="0" font-size="66.5" text-anchor="middle" transform="translate(1158.8 1478) scale(1.0000 1.0300)">8</text>
<text x="0" y="0" font-size="66.5" text-anchor="middle" transform="translate(1268.3 1478) scale(1.0000 1.0300)">9</text>
<text x="0" y="0" font-size="66.5" text-anchor="middle" transform="translate(1376.2 1478) scale(1.0000 1.0300)">10</text>
<text x="0" y="0" font-size="66.5" text-anchor="middle" transform="translate(1487.6 1478) scale(1.0000 1.0300)">11</text>
<text x="0" y="0" font-size="66.5" text-anchor="middle" transform="translate(1596.8 1478) scale(1.0000 1.0300)">12</text>
<text x="0" y="0" font-size="66.5" text-anchor="middle" transform="translate(1725 1478) scale(1.0000 1.0300)">13</text>
<text x="0" y="0" font-size="66.5" text-anchor="middle" transform="translate(1834.5 1478) scale(1.0000 1.0300)">14</text>
<text x="0" y="0" font-size="66.5" text-anchor="middle" transform="translate(1944.4 1478) scale(1.0000 1.0300)">15</text>
<text x="0" y="0" font-size="66.5" text-anchor="middle" transform="translate(2053.6 1478) scale(1.0000 1.0300)">16</text>
<text x="1226.5" y="1574.4" font-size="66.2" text-anchor="middle">compound</text>
<text x="0" y="0" font-size="66.8" text-anchor="middle" transform="rotate(-90 133 754.8) translate(133 754.8) scale(1.0000 1.0400)">HepG2 Inhibitory%</text>
<text x="0" y="0" font-size="59.6" text-anchor="end" transform="translate(164.2 3271.7) scale(1.0000 1.0300)">0</text>
<text x="0" y="0" font-size="59.6" text-anchor="end" transform="translate(164.2 2782.4) scale(1.0000 1.0300)">15</text>
<text x="0" y="0" font-size="59.6" text-anchor="end" transform="translate(164.2 2293.1) scale(1.0000 1.0300)">30</text>
<text x="0" y="0" font-size="59.6" text-anchor="end" transform="translate(164.2 1803.8) scale(1.0000 1.0300)">45</text>
<text x="0" y="0" font-size="72.5" text-anchor="middle" transform="translate(288.8 3370.7) scale(1.0000 1.0300)">1</text>
<text x="0" y="0" font-size="72.5" text-anchor="middle" transform="translate(404.6 3370.7) scale(1.0000 1.0300)">2</text>
<text x="0" y="0" font-size="72.5" text-anchor="middle" transform="translate(525.5 3370.7) scale(1.0000 1.0300)">3</text>
<text x="0" y="0" font-size="72.5" text-anchor="middle" transform="translate(642.9 3370.7) scale(1.0000 1.0300)">4</text>
<text x="0" y="0" font-size="72.5" text-anchor="middle" transform="translate(762.8 3370.7) scale(1.0000 1.0300)">5</text>
<text x="0" y="0" font-size="72.5" text-anchor="middle" transform="translate(882.4 3370.7) scale(1.0000 1.0300)">6</text>
<text x="0" y="0" font-size="72.5" text-anchor="middle" transform="translate(1002 3370.7) scale(1.0000 1.0300)">7</text>
<text x="0" y="0" font-size="72.5" text-anchor="middle" transform="translate(1122.1 3370.7) scale(1.0000 1.0300)">8</text>
<text x="0" y="0" font-size="72.5" text-anchor="middle" transform="translate(1241.5 3370.7) scale(1.0000 1.0300)">9</text>
<text x="0" y="0" font-size="72.5" text-anchor="middle" transform="translate(1360.2 3370.7) scale(1.0000 1.0300)">10</text>
<text x="0" y="0" font-size="72.5" text-anchor="middle" transform="translate(1496.9 3370.7) scale(1.0000 1.0300)">11</text>
<text x="0" y="0" font-size="72.5" text-anchor="middle" transform="translate(1621.1 3370.7) scale(1.0000 1.0300)">12</text>
<text x="0" y="0" font-size="72.5" text-anchor="middle" transform="translate(1741.3 3370.7) scale(1.0000 1.0300)">13</text>
<text x="0" y="0" font-size="72.5" text-anchor="middle" transform="translate(1861.3 3370.7) scale(1.0000 1.0300)">14</text>
<text x="0" y="0" font-size="72.5" text-anchor="middle" transform="translate(1982.6 3370.7) scale(1.0000 1.0300)">15</text>
<text x="0" y="0" font-size="72.5" text-anchor="middle" transform="translate(2102.5 3370.7) scale(1.0000 1.0300)">16</text>
<text x="1228" y="3472.4" font-size="72.3" text-anchor="middle">compound</text>
<text x="0" y="0" font-size="72.6" text-anchor="middle" transform="rotate(-90 82.3 2474) translate(82.3 2474) scale(1.0000 1.0400)">LO2 Inhibitory%</text>
<text x="0" y="0" font-size="80.5" text-anchor="middle" class="cap" transform="translate(1118.8 1706.6) scale(1.0000 1.0600)">(<tspan font-weight="bold">a</tspan>)</text>
<text x="0" y="0" font-size="80.5" text-anchor="middle" class="cap" transform="translate(1118.4 3627.2) scale(1.0550 1.0600)">(<tspan font-weight="bold">b</tspan>)</text>
<text x="1923.6" y="164.5" font-size="60.8" class="lg" textLength="199.3" lengthAdjust="spacingAndGlyphs">0.78µM</text>
<text x="1923.7" y="246.1" font-size="60.8" class="lg" textLength="198.9" lengthAdjust="spacingAndGlyphs">12.5µM</text>
<text x="1924" y="328.2" font-size="60.8" class="lg" textLength="202.7" lengthAdjust="spacingAndGlyphs">100 µM</text>
<text x="495.8" y="1864.2" font-size="65.7" class="lg" textLength="204.4" lengthAdjust="spacingAndGlyphs">100µM</text>
<text x="497.4" y="1954.1" font-size="65.7" class="lg" textLength="166.7" lengthAdjust="spacingAndGlyphs">25µM</text>
<text x="496.8" y="2043.7" font-size="65.7" class="lg" textLength="216.9" lengthAdjust="spacingAndGlyphs">0.78µM</text>
</svg></body></html>
